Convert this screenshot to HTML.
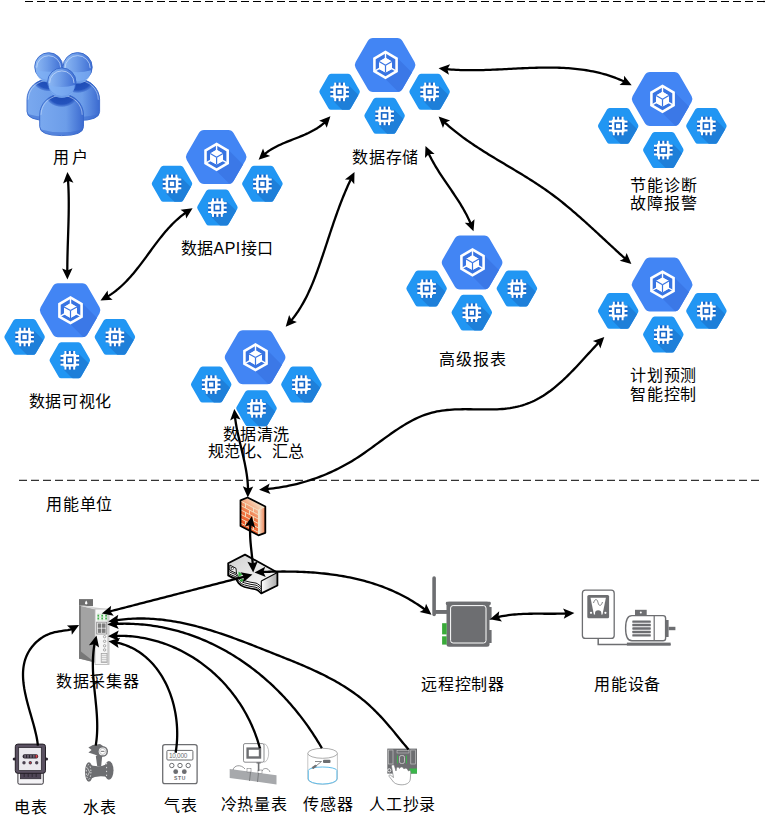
<!DOCTYPE html><html lang="zh-CN"><head><meta charset="utf-8"><style>html,body{margin:0;padding:0;background:#fff;overflow:hidden}svg{display:block}text{font-family:"Liberation Sans",sans-serif;font-size:16px;fill:#000;letter-spacing:0.7px}</style></head><body><svg width="769" height="826" viewBox="0 0 769 826"><defs><linearGradient id="ug1" x1="0" y1="0" x2="1" y2="0"><stop offset="0" stop-color="#8ab8f5"/><stop offset="1" stop-color="#3a6fd4"/></linearGradient><linearGradient id="ug2" x1="0" y1="0" x2="1" y2="0"><stop offset="0" stop-color="#7fb0f2"/><stop offset="1" stop-color="#3d72d6"/></linearGradient></defs><line x1="25" y1="1.5" x2="765" y2="1.5" stroke="#000" stroke-width="1.2" stroke-dasharray="8 4"/><line x1="19" y1="480.3" x2="759" y2="480.3" stroke="#333" stroke-width="1.2" stroke-dasharray="8 4"/><clipPath id="c1"><path d="M245.67 153.9Q247.4 156.9 245.67 159.9L233.53 180.92Q231.8 183.92 228.34 183.92L204.06 183.92Q200.6 183.92 198.87 180.92L186.73 159.9Q185 156.9 186.73 153.9L198.87 132.88Q200.6 129.88 204.06 129.88L228.34 129.88Q231.8 129.88 233.53 132.88Z"/></clipPath><path d="M245.67 153.9Q247.4 156.9 245.67 159.9L233.53 180.92Q231.8 183.92 228.34 183.92L204.06 183.92Q200.6 183.92 198.87 180.92L186.73 159.9Q185 156.9 186.73 153.9L198.87 132.88Q200.6 129.88 204.06 129.88L228.34 129.88Q231.8 129.88 233.53 132.88Z" fill="#4285f4"/><polygon clip-path="url(#c1)" points="228.5,149.9 288.5,209.9 276.5,230.9 216.5,170.9" fill="#3b78e7"/><polygon points="228.5,149.9 216.2,156.9 216.5,170.9" fill="#3b78e7" clip-path="url(#c1)"/><polygon points="216.6,142.6 228.98,149.75 228.98,164.05 216.6,171.2 204.22,164.05 204.22,149.75" fill="#fff"/><polygon points="216.6,145.6 226.39,151.25 226.39,162.55 216.6,168.2 206.81,162.55 206.81,151.25" fill="#3874e2"/><polygon points="216.6,149.8 223.01,153.5 223.01,160.9 216.6,164.6 210.19,160.9 210.19,153.5" fill="#fff"/><line x1="216.6" y1="156.9" x2="216.6" y2="144.9" stroke="#fff" stroke-width="1.4"/><line x1="216.6" y1="156.9" x2="206.21" y2="162.9" stroke="#fff" stroke-width="1.4"/><line x1="216.6" y1="156.9" x2="226.99" y2="162.9" stroke="#fff" stroke-width="1.4"/><polygon points="216.6,149.8 223.01,153.5 223.01,160.9 216.6,164.6 210.19,160.9 210.19,153.5" fill="#fff"/><line x1="216.6" y1="157.2" x2="210.19" y2="153.5" stroke="#3874e2" stroke-width="1.2"/><line x1="216.6" y1="157.2" x2="223.01" y2="153.5" stroke="#3874e2" stroke-width="1.2"/><line x1="216.6" y1="157.2" x2="216.6" y2="164.6" stroke="#3874e2" stroke-width="1.2"/><clipPath id="c2"><path d="M191.83 182.3Q192.7 183.8 191.83 185.3L183.22 200.23Q182.35 201.73 180.62 201.73L163.38 201.73Q161.65 201.73 160.78 200.23L152.17 185.3Q151.3 183.8 152.17 182.3L160.78 167.37Q161.65 165.87 163.38 165.87L180.62 165.87Q182.35 165.87 183.22 167.37Z"/></clipPath><path d="M191.83 182.3Q192.7 183.8 191.83 185.3L183.22 200.23Q182.35 201.73 180.62 201.73L163.38 201.73Q161.65 201.73 160.78 200.23L152.17 185.3Q151.3 183.8 152.17 182.3L160.78 167.37Q161.65 165.87 163.38 165.87L180.62 165.87Q182.35 165.87 183.22 167.37Z" fill="#2196f3"/><polygon clip-path="url(#c2)" points="181.3,177.5 221.3,217.5 205.7,233.1 165.7,193.1 172,183.8" fill="#1e7fd9"/><rect x="166.5" y="174.6" width="11" height="3" fill="#1565c8"/><rect x="166.5" y="190.2" width="11" height="3" fill="#1565c8"/><rect x="162.7" y="178.4" width="3" height="11" fill="#1565c8"/><rect x="178.3" y="178.4" width="3" height="11" fill="#1565c8"/><rect x="165.7" y="177.6" width="12.6" height="12.6" fill="#fff"/><rect x="166.6" y="174.6" width="2" height="18.6" fill="#fff"/><rect x="162.7" y="178.5" width="18.6" height="2" fill="#fff"/><rect x="171" y="174.6" width="2" height="18.6" fill="#fff"/><rect x="162.7" y="182.9" width="18.6" height="2" fill="#fff"/><rect x="175.4" y="174.6" width="2" height="18.6" fill="#fff"/><rect x="162.7" y="187.3" width="18.6" height="2" fill="#fff"/><rect x="169" y="180.9" width="6" height="6" fill="none" stroke="#1565c8" stroke-width="1.6"/><clipPath id="c3"><path d="M282.23 182.3Q283.1 183.8 282.23 185.3L273.62 200.23Q272.75 201.73 271.02 201.73L253.78 201.73Q252.05 201.73 251.18 200.23L242.57 185.3Q241.7 183.8 242.57 182.3L251.18 167.37Q252.05 165.87 253.78 165.87L271.02 165.87Q272.75 165.87 273.62 167.37Z"/></clipPath><path d="M282.23 182.3Q283.1 183.8 282.23 185.3L273.62 200.23Q272.75 201.73 271.02 201.73L253.78 201.73Q252.05 201.73 251.18 200.23L242.57 185.3Q241.7 183.8 242.57 182.3L251.18 167.37Q252.05 165.87 253.78 165.87L271.02 165.87Q272.75 165.87 273.62 167.37Z" fill="#2196f3"/><polygon clip-path="url(#c3)" points="271.7,177.5 311.7,217.5 296.1,233.1 256.1,193.1 262.4,183.8" fill="#1e7fd9"/><rect x="256.9" y="174.6" width="11" height="3" fill="#1565c8"/><rect x="256.9" y="190.2" width="11" height="3" fill="#1565c8"/><rect x="253.1" y="178.4" width="3" height="11" fill="#1565c8"/><rect x="268.7" y="178.4" width="3" height="11" fill="#1565c8"/><rect x="256.1" y="177.6" width="12.6" height="12.6" fill="#fff"/><rect x="257" y="174.6" width="2" height="18.6" fill="#fff"/><rect x="253.1" y="178.5" width="18.6" height="2" fill="#fff"/><rect x="261.4" y="174.6" width="2" height="18.6" fill="#fff"/><rect x="253.1" y="182.9" width="18.6" height="2" fill="#fff"/><rect x="265.8" y="174.6" width="2" height="18.6" fill="#fff"/><rect x="253.1" y="187.3" width="18.6" height="2" fill="#fff"/><rect x="259.4" y="180.9" width="6" height="6" fill="none" stroke="#1565c8" stroke-width="1.6"/><clipPath id="c4"><path d="M237.23 206Q238.1 207.5 237.23 209L228.62 223.93Q227.75 225.43 226.02 225.43L208.78 225.43Q207.05 225.43 206.18 223.93L197.57 209Q196.7 207.5 197.57 206L206.18 191.07Q207.05 189.57 208.78 189.57L226.02 189.57Q227.75 189.57 228.62 191.07Z"/></clipPath><path d="M237.23 206Q238.1 207.5 237.23 209L228.62 223.93Q227.75 225.43 226.02 225.43L208.78 225.43Q207.05 225.43 206.18 223.93L197.57 209Q196.7 207.5 197.57 206L206.18 191.07Q207.05 189.57 208.78 189.57L226.02 189.57Q227.75 189.57 228.62 191.07Z" fill="#2196f3"/><polygon clip-path="url(#c4)" points="226.7,201.2 266.7,241.2 251.1,256.8 211.1,216.8 217.4,207.5" fill="#1e7fd9"/><rect x="211.9" y="198.3" width="11" height="3" fill="#1565c8"/><rect x="211.9" y="213.9" width="11" height="3" fill="#1565c8"/><rect x="208.1" y="202.1" width="3" height="11" fill="#1565c8"/><rect x="223.7" y="202.1" width="3" height="11" fill="#1565c8"/><rect x="211.1" y="201.3" width="12.6" height="12.6" fill="#fff"/><rect x="212" y="198.3" width="2" height="18.6" fill="#fff"/><rect x="208.1" y="202.2" width="18.6" height="2" fill="#fff"/><rect x="216.4" y="198.3" width="2" height="18.6" fill="#fff"/><rect x="208.1" y="206.6" width="18.6" height="2" fill="#fff"/><rect x="220.8" y="198.3" width="2" height="18.6" fill="#fff"/><rect x="208.1" y="211" width="18.6" height="2" fill="#fff"/><rect x="214.4" y="204.6" width="6" height="6" fill="none" stroke="#1565c8" stroke-width="1.6"/><clipPath id="c5"><path d="M414.57 61.9Q416.3 64.9 414.57 67.9L402.43 88.92Q400.7 91.92 397.24 91.92L372.96 91.92Q369.5 91.92 367.77 88.92L355.63 67.9Q353.9 64.9 355.63 61.9L367.77 40.88Q369.5 37.88 372.96 37.88L397.24 37.88Q400.7 37.88 402.43 40.88Z"/></clipPath><path d="M414.57 61.9Q416.3 64.9 414.57 67.9L402.43 88.92Q400.7 91.92 397.24 91.92L372.96 91.92Q369.5 91.92 367.77 88.92L355.63 67.9Q353.9 64.9 355.63 61.9L367.77 40.88Q369.5 37.88 372.96 37.88L397.24 37.88Q400.7 37.88 402.43 40.88Z" fill="#4285f4"/><polygon clip-path="url(#c5)" points="397.4,57.9 457.4,117.9 445.4,138.9 385.4,78.9" fill="#3b78e7"/><polygon points="397.4,57.9 385.1,64.9 385.4,78.9" fill="#3b78e7" clip-path="url(#c5)"/><polygon points="385.5,50.6 397.88,57.75 397.88,72.05 385.5,79.2 373.12,72.05 373.12,57.75" fill="#fff"/><polygon points="385.5,53.6 395.29,59.25 395.29,70.55 385.5,76.2 375.71,70.55 375.71,59.25" fill="#3874e2"/><polygon points="385.5,57.8 391.91,61.5 391.91,68.9 385.5,72.6 379.09,68.9 379.09,61.5" fill="#fff"/><line x1="385.5" y1="64.9" x2="385.5" y2="52.9" stroke="#fff" stroke-width="1.4"/><line x1="385.5" y1="64.9" x2="375.11" y2="70.9" stroke="#fff" stroke-width="1.4"/><line x1="385.5" y1="64.9" x2="395.89" y2="70.9" stroke="#fff" stroke-width="1.4"/><polygon points="385.5,57.8 391.91,61.5 391.91,68.9 385.5,72.6 379.09,68.9 379.09,61.5" fill="#fff"/><line x1="385.5" y1="65.2" x2="379.09" y2="61.5" stroke="#3874e2" stroke-width="1.2"/><line x1="385.5" y1="65.2" x2="391.91" y2="61.5" stroke="#3874e2" stroke-width="1.2"/><line x1="385.5" y1="65.2" x2="385.5" y2="72.6" stroke="#3874e2" stroke-width="1.2"/><clipPath id="c6"><path d="M359.43 90.3Q360.3 91.8 359.43 93.3L350.82 108.23Q349.95 109.73 348.22 109.73L330.98 109.73Q329.25 109.73 328.38 108.23L319.77 93.3Q318.9 91.8 319.77 90.3L328.38 75.37Q329.25 73.87 330.98 73.87L348.22 73.87Q349.95 73.87 350.82 75.37Z"/></clipPath><path d="M359.43 90.3Q360.3 91.8 359.43 93.3L350.82 108.23Q349.95 109.73 348.22 109.73L330.98 109.73Q329.25 109.73 328.38 108.23L319.77 93.3Q318.9 91.8 319.77 90.3L328.38 75.37Q329.25 73.87 330.98 73.87L348.22 73.87Q349.95 73.87 350.82 75.37Z" fill="#2196f3"/><polygon clip-path="url(#c6)" points="348.9,85.5 388.9,125.5 373.3,141.1 333.3,101.1 339.6,91.8" fill="#1e7fd9"/><rect x="334.1" y="82.6" width="11" height="3" fill="#1565c8"/><rect x="334.1" y="98.2" width="11" height="3" fill="#1565c8"/><rect x="330.3" y="86.4" width="3" height="11" fill="#1565c8"/><rect x="345.9" y="86.4" width="3" height="11" fill="#1565c8"/><rect x="333.3" y="85.6" width="12.6" height="12.6" fill="#fff"/><rect x="334.2" y="82.6" width="2" height="18.6" fill="#fff"/><rect x="330.3" y="86.5" width="18.6" height="2" fill="#fff"/><rect x="338.6" y="82.6" width="2" height="18.6" fill="#fff"/><rect x="330.3" y="90.9" width="18.6" height="2" fill="#fff"/><rect x="343" y="82.6" width="2" height="18.6" fill="#fff"/><rect x="330.3" y="95.3" width="18.6" height="2" fill="#fff"/><rect x="336.6" y="88.9" width="6" height="6" fill="none" stroke="#1565c8" stroke-width="1.6"/><clipPath id="c7"><path d="M449.43 90.3Q450.3 91.8 449.43 93.3L440.82 108.23Q439.95 109.73 438.22 109.73L420.98 109.73Q419.25 109.73 418.38 108.23L409.77 93.3Q408.9 91.8 409.77 90.3L418.38 75.37Q419.25 73.87 420.98 73.87L438.22 73.87Q439.95 73.87 440.82 75.37Z"/></clipPath><path d="M449.43 90.3Q450.3 91.8 449.43 93.3L440.82 108.23Q439.95 109.73 438.22 109.73L420.98 109.73Q419.25 109.73 418.38 108.23L409.77 93.3Q408.9 91.8 409.77 90.3L418.38 75.37Q419.25 73.87 420.98 73.87L438.22 73.87Q439.95 73.87 440.82 75.37Z" fill="#2196f3"/><polygon clip-path="url(#c7)" points="438.9,85.5 478.9,125.5 463.3,141.1 423.3,101.1 429.6,91.8" fill="#1e7fd9"/><rect x="424.1" y="82.6" width="11" height="3" fill="#1565c8"/><rect x="424.1" y="98.2" width="11" height="3" fill="#1565c8"/><rect x="420.3" y="86.4" width="3" height="11" fill="#1565c8"/><rect x="435.9" y="86.4" width="3" height="11" fill="#1565c8"/><rect x="423.3" y="85.6" width="12.6" height="12.6" fill="#fff"/><rect x="424.2" y="82.6" width="2" height="18.6" fill="#fff"/><rect x="420.3" y="86.5" width="18.6" height="2" fill="#fff"/><rect x="428.6" y="82.6" width="2" height="18.6" fill="#fff"/><rect x="420.3" y="90.9" width="18.6" height="2" fill="#fff"/><rect x="433" y="82.6" width="2" height="18.6" fill="#fff"/><rect x="420.3" y="95.3" width="18.6" height="2" fill="#fff"/><rect x="426.6" y="88.9" width="6" height="6" fill="none" stroke="#1565c8" stroke-width="1.6"/><clipPath id="c8"><path d="M404.43 114.3Q405.3 115.8 404.43 117.3L395.82 132.23Q394.95 133.73 393.22 133.73L375.98 133.73Q374.25 133.73 373.38 132.23L364.77 117.3Q363.9 115.8 364.77 114.3L373.38 99.37Q374.25 97.87 375.98 97.87L393.22 97.87Q394.95 97.87 395.82 99.37Z"/></clipPath><path d="M404.43 114.3Q405.3 115.8 404.43 117.3L395.82 132.23Q394.95 133.73 393.22 133.73L375.98 133.73Q374.25 133.73 373.38 132.23L364.77 117.3Q363.9 115.8 364.77 114.3L373.38 99.37Q374.25 97.87 375.98 97.87L393.22 97.87Q394.95 97.87 395.82 99.37Z" fill="#2196f3"/><polygon clip-path="url(#c8)" points="393.9,109.5 433.9,149.5 418.3,165.1 378.3,125.1 384.6,115.8" fill="#1e7fd9"/><rect x="379.1" y="106.6" width="11" height="3" fill="#1565c8"/><rect x="379.1" y="122.2" width="11" height="3" fill="#1565c8"/><rect x="375.3" y="110.4" width="3" height="11" fill="#1565c8"/><rect x="390.9" y="110.4" width="3" height="11" fill="#1565c8"/><rect x="378.3" y="109.6" width="12.6" height="12.6" fill="#fff"/><rect x="379.2" y="106.6" width="2" height="18.6" fill="#fff"/><rect x="375.3" y="110.5" width="18.6" height="2" fill="#fff"/><rect x="383.6" y="106.6" width="2" height="18.6" fill="#fff"/><rect x="375.3" y="114.9" width="18.6" height="2" fill="#fff"/><rect x="388" y="106.6" width="2" height="18.6" fill="#fff"/><rect x="375.3" y="119.3" width="18.6" height="2" fill="#fff"/><rect x="381.6" y="112.9" width="6" height="6" fill="none" stroke="#1565c8" stroke-width="1.6"/><clipPath id="c9"><path d="M691.57 95.9Q693.3 98.9 691.57 101.9L679.43 122.92Q677.7 125.92 674.24 125.92L649.96 125.92Q646.5 125.92 644.77 122.92L632.63 101.9Q630.9 98.9 632.63 95.9L644.77 74.88Q646.5 71.88 649.96 71.88L674.24 71.88Q677.7 71.88 679.43 74.88Z"/></clipPath><path d="M691.57 95.9Q693.3 98.9 691.57 101.9L679.43 122.92Q677.7 125.92 674.24 125.92L649.96 125.92Q646.5 125.92 644.77 122.92L632.63 101.9Q630.9 98.9 632.63 95.9L644.77 74.88Q646.5 71.88 649.96 71.88L674.24 71.88Q677.7 71.88 679.43 74.88Z" fill="#4285f4"/><polygon clip-path="url(#c9)" points="674.4,91.9 734.4,151.9 722.4,172.9 662.4,112.9" fill="#3b78e7"/><polygon points="674.4,91.9 662.1,98.9 662.4,112.9" fill="#3b78e7" clip-path="url(#c9)"/><polygon points="662.5,84.6 674.88,91.75 674.88,106.05 662.5,113.2 650.12,106.05 650.12,91.75" fill="#fff"/><polygon points="662.5,87.6 672.29,93.25 672.29,104.55 662.5,110.2 652.71,104.55 652.71,93.25" fill="#3874e2"/><polygon points="662.5,91.8 668.91,95.5 668.91,102.9 662.5,106.6 656.09,102.9 656.09,95.5" fill="#fff"/><line x1="662.5" y1="98.9" x2="662.5" y2="86.9" stroke="#fff" stroke-width="1.4"/><line x1="662.5" y1="98.9" x2="652.11" y2="104.9" stroke="#fff" stroke-width="1.4"/><line x1="662.5" y1="98.9" x2="672.89" y2="104.9" stroke="#fff" stroke-width="1.4"/><polygon points="662.5,91.8 668.91,95.5 668.91,102.9 662.5,106.6 656.09,102.9 656.09,95.5" fill="#fff"/><line x1="662.5" y1="99.2" x2="656.09" y2="95.5" stroke="#3874e2" stroke-width="1.2"/><line x1="662.5" y1="99.2" x2="668.91" y2="95.5" stroke="#3874e2" stroke-width="1.2"/><line x1="662.5" y1="99.2" x2="662.5" y2="106.6" stroke="#3874e2" stroke-width="1.2"/><clipPath id="c10"><path d="M638.03 124.4Q638.9 125.9 638.03 127.4L629.42 142.33Q628.55 143.83 626.82 143.83L609.58 143.83Q607.85 143.83 606.98 142.33L598.37 127.4Q597.5 125.9 598.37 124.4L606.98 109.47Q607.85 107.97 609.58 107.97L626.82 107.97Q628.55 107.97 629.42 109.47Z"/></clipPath><path d="M638.03 124.4Q638.9 125.9 638.03 127.4L629.42 142.33Q628.55 143.83 626.82 143.83L609.58 143.83Q607.85 143.83 606.98 142.33L598.37 127.4Q597.5 125.9 598.37 124.4L606.98 109.47Q607.85 107.97 609.58 107.97L626.82 107.97Q628.55 107.97 629.42 109.47Z" fill="#2196f3"/><polygon clip-path="url(#c10)" points="627.5,119.6 667.5,159.6 651.9,175.2 611.9,135.2 618.2,125.9" fill="#1e7fd9"/><rect x="612.7" y="116.7" width="11" height="3" fill="#1565c8"/><rect x="612.7" y="132.3" width="11" height="3" fill="#1565c8"/><rect x="608.9" y="120.5" width="3" height="11" fill="#1565c8"/><rect x="624.5" y="120.5" width="3" height="11" fill="#1565c8"/><rect x="611.9" y="119.7" width="12.6" height="12.6" fill="#fff"/><rect x="612.8" y="116.7" width="2" height="18.6" fill="#fff"/><rect x="608.9" y="120.6" width="18.6" height="2" fill="#fff"/><rect x="617.2" y="116.7" width="2" height="18.6" fill="#fff"/><rect x="608.9" y="125" width="18.6" height="2" fill="#fff"/><rect x="621.6" y="116.7" width="2" height="18.6" fill="#fff"/><rect x="608.9" y="129.4" width="18.6" height="2" fill="#fff"/><rect x="615.2" y="123" width="6" height="6" fill="none" stroke="#1565c8" stroke-width="1.6"/><clipPath id="c11"><path d="M726.23 124.4Q727.1 125.9 726.23 127.4L717.62 142.33Q716.75 143.83 715.02 143.83L697.78 143.83Q696.05 143.83 695.18 142.33L686.57 127.4Q685.7 125.9 686.57 124.4L695.18 109.47Q696.05 107.97 697.78 107.97L715.02 107.97Q716.75 107.97 717.62 109.47Z"/></clipPath><path d="M726.23 124.4Q727.1 125.9 726.23 127.4L717.62 142.33Q716.75 143.83 715.02 143.83L697.78 143.83Q696.05 143.83 695.18 142.33L686.57 127.4Q685.7 125.9 686.57 124.4L695.18 109.47Q696.05 107.97 697.78 107.97L715.02 107.97Q716.75 107.97 717.62 109.47Z" fill="#2196f3"/><polygon clip-path="url(#c11)" points="715.7,119.6 755.7,159.6 740.1,175.2 700.1,135.2 706.4,125.9" fill="#1e7fd9"/><rect x="700.9" y="116.7" width="11" height="3" fill="#1565c8"/><rect x="700.9" y="132.3" width="11" height="3" fill="#1565c8"/><rect x="697.1" y="120.5" width="3" height="11" fill="#1565c8"/><rect x="712.7" y="120.5" width="3" height="11" fill="#1565c8"/><rect x="700.1" y="119.7" width="12.6" height="12.6" fill="#fff"/><rect x="701" y="116.7" width="2" height="18.6" fill="#fff"/><rect x="697.1" y="120.6" width="18.6" height="2" fill="#fff"/><rect x="705.4" y="116.7" width="2" height="18.6" fill="#fff"/><rect x="697.1" y="125" width="18.6" height="2" fill="#fff"/><rect x="709.8" y="116.7" width="2" height="18.6" fill="#fff"/><rect x="697.1" y="129.4" width="18.6" height="2" fill="#fff"/><rect x="703.4" y="123" width="6" height="6" fill="none" stroke="#1565c8" stroke-width="1.6"/><clipPath id="c12"><path d="M683.13 148.5Q684 150 683.13 151.5L674.52 166.43Q673.65 167.93 671.92 167.93L654.68 167.93Q652.95 167.93 652.08 166.43L643.47 151.5Q642.6 150 643.47 148.5L652.08 133.57Q652.95 132.07 654.68 132.07L671.92 132.07Q673.65 132.07 674.52 133.57Z"/></clipPath><path d="M683.13 148.5Q684 150 683.13 151.5L674.52 166.43Q673.65 167.93 671.92 167.93L654.68 167.93Q652.95 167.93 652.08 166.43L643.47 151.5Q642.6 150 643.47 148.5L652.08 133.57Q652.95 132.07 654.68 132.07L671.92 132.07Q673.65 132.07 674.52 133.57Z" fill="#2196f3"/><polygon clip-path="url(#c12)" points="672.6,143.7 712.6,183.7 697,199.3 657,159.3 663.3,150" fill="#1e7fd9"/><rect x="657.8" y="140.8" width="11" height="3" fill="#1565c8"/><rect x="657.8" y="156.4" width="11" height="3" fill="#1565c8"/><rect x="654" y="144.6" width="3" height="11" fill="#1565c8"/><rect x="669.6" y="144.6" width="3" height="11" fill="#1565c8"/><rect x="657" y="143.8" width="12.6" height="12.6" fill="#fff"/><rect x="657.9" y="140.8" width="2" height="18.6" fill="#fff"/><rect x="654" y="144.7" width="18.6" height="2" fill="#fff"/><rect x="662.3" y="140.8" width="2" height="18.6" fill="#fff"/><rect x="654" y="149.1" width="18.6" height="2" fill="#fff"/><rect x="666.7" y="140.8" width="2" height="18.6" fill="#fff"/><rect x="654" y="153.5" width="18.6" height="2" fill="#fff"/><rect x="660.3" y="147.1" width="6" height="6" fill="none" stroke="#1565c8" stroke-width="1.6"/><clipPath id="c13"><path d="M501.57 259.4Q503.3 262.4 501.57 265.4L489.43 286.42Q487.7 289.42 484.24 289.42L459.96 289.42Q456.5 289.42 454.77 286.42L442.63 265.4Q440.9 262.4 442.63 259.4L454.77 238.38Q456.5 235.38 459.96 235.38L484.24 235.38Q487.7 235.38 489.43 238.38Z"/></clipPath><path d="M501.57 259.4Q503.3 262.4 501.57 265.4L489.43 286.42Q487.7 289.42 484.24 289.42L459.96 289.42Q456.5 289.42 454.77 286.42L442.63 265.4Q440.9 262.4 442.63 259.4L454.77 238.38Q456.5 235.38 459.96 235.38L484.24 235.38Q487.7 235.38 489.43 238.38Z" fill="#4285f4"/><polygon clip-path="url(#c13)" points="484.4,255.4 544.4,315.4 532.4,336.4 472.4,276.4" fill="#3b78e7"/><polygon points="484.4,255.4 472.1,262.4 472.4,276.4" fill="#3b78e7" clip-path="url(#c13)"/><polygon points="472.5,248.1 484.88,255.25 484.88,269.55 472.5,276.7 460.12,269.55 460.12,255.25" fill="#fff"/><polygon points="472.5,251.1 482.29,256.75 482.29,268.05 472.5,273.7 462.71,268.05 462.71,256.75" fill="#3874e2"/><polygon points="472.5,255.3 478.91,259 478.91,266.4 472.5,270.1 466.09,266.4 466.09,259" fill="#fff"/><line x1="472.5" y1="262.4" x2="472.5" y2="250.4" stroke="#fff" stroke-width="1.4"/><line x1="472.5" y1="262.4" x2="462.11" y2="268.4" stroke="#fff" stroke-width="1.4"/><line x1="472.5" y1="262.4" x2="482.89" y2="268.4" stroke="#fff" stroke-width="1.4"/><polygon points="472.5,255.3 478.91,259 478.91,266.4 472.5,270.1 466.09,266.4 466.09,259" fill="#fff"/><line x1="472.5" y1="262.7" x2="466.09" y2="259" stroke="#3874e2" stroke-width="1.2"/><line x1="472.5" y1="262.7" x2="478.91" y2="259" stroke="#3874e2" stroke-width="1.2"/><line x1="472.5" y1="262.7" x2="472.5" y2="270.1" stroke="#3874e2" stroke-width="1.2"/><clipPath id="c14"><path d="M446.43 287Q447.3 288.5 446.43 290L437.82 304.93Q436.95 306.43 435.22 306.43L417.98 306.43Q416.25 306.43 415.38 304.93L406.77 290Q405.9 288.5 406.77 287L415.38 272.07Q416.25 270.57 417.98 270.57L435.22 270.57Q436.95 270.57 437.82 272.07Z"/></clipPath><path d="M446.43 287Q447.3 288.5 446.43 290L437.82 304.93Q436.95 306.43 435.22 306.43L417.98 306.43Q416.25 306.43 415.38 304.93L406.77 290Q405.9 288.5 406.77 287L415.38 272.07Q416.25 270.57 417.98 270.57L435.22 270.57Q436.95 270.57 437.82 272.07Z" fill="#2196f3"/><polygon clip-path="url(#c14)" points="435.9,282.2 475.9,322.2 460.3,337.8 420.3,297.8 426.6,288.5" fill="#1e7fd9"/><rect x="421.1" y="279.3" width="11" height="3" fill="#1565c8"/><rect x="421.1" y="294.9" width="11" height="3" fill="#1565c8"/><rect x="417.3" y="283.1" width="3" height="11" fill="#1565c8"/><rect x="432.9" y="283.1" width="3" height="11" fill="#1565c8"/><rect x="420.3" y="282.3" width="12.6" height="12.6" fill="#fff"/><rect x="421.2" y="279.3" width="2" height="18.6" fill="#fff"/><rect x="417.3" y="283.2" width="18.6" height="2" fill="#fff"/><rect x="425.6" y="279.3" width="2" height="18.6" fill="#fff"/><rect x="417.3" y="287.6" width="18.6" height="2" fill="#fff"/><rect x="430" y="279.3" width="2" height="18.6" fill="#fff"/><rect x="417.3" y="292" width="18.6" height="2" fill="#fff"/><rect x="423.6" y="285.6" width="6" height="6" fill="none" stroke="#1565c8" stroke-width="1.6"/><clipPath id="c15"><path d="M536.73 287Q537.6 288.5 536.73 290L528.12 304.93Q527.25 306.43 525.52 306.43L508.28 306.43Q506.55 306.43 505.68 304.93L497.07 290Q496.2 288.5 497.07 287L505.68 272.07Q506.55 270.57 508.28 270.57L525.52 270.57Q527.25 270.57 528.12 272.07Z"/></clipPath><path d="M536.73 287Q537.6 288.5 536.73 290L528.12 304.93Q527.25 306.43 525.52 306.43L508.28 306.43Q506.55 306.43 505.68 304.93L497.07 290Q496.2 288.5 497.07 287L505.68 272.07Q506.55 270.57 508.28 270.57L525.52 270.57Q527.25 270.57 528.12 272.07Z" fill="#2196f3"/><polygon clip-path="url(#c15)" points="526.2,282.2 566.2,322.2 550.6,337.8 510.6,297.8 516.9,288.5" fill="#1e7fd9"/><rect x="511.4" y="279.3" width="11" height="3" fill="#1565c8"/><rect x="511.4" y="294.9" width="11" height="3" fill="#1565c8"/><rect x="507.6" y="283.1" width="3" height="11" fill="#1565c8"/><rect x="523.2" y="283.1" width="3" height="11" fill="#1565c8"/><rect x="510.6" y="282.3" width="12.6" height="12.6" fill="#fff"/><rect x="511.5" y="279.3" width="2" height="18.6" fill="#fff"/><rect x="507.6" y="283.2" width="18.6" height="2" fill="#fff"/><rect x="515.9" y="279.3" width="2" height="18.6" fill="#fff"/><rect x="507.6" y="287.6" width="18.6" height="2" fill="#fff"/><rect x="520.3" y="279.3" width="2" height="18.6" fill="#fff"/><rect x="507.6" y="292" width="18.6" height="2" fill="#fff"/><rect x="513.9" y="285.6" width="6" height="6" fill="none" stroke="#1565c8" stroke-width="1.6"/><clipPath id="c16"><path d="M491.63 311.1Q492.5 312.6 491.63 314.1L483.02 329.03Q482.15 330.53 480.42 330.53L463.18 330.53Q461.45 330.53 460.58 329.03L451.97 314.1Q451.1 312.6 451.97 311.1L460.58 296.17Q461.45 294.67 463.18 294.67L480.42 294.67Q482.15 294.67 483.02 296.17Z"/></clipPath><path d="M491.63 311.1Q492.5 312.6 491.63 314.1L483.02 329.03Q482.15 330.53 480.42 330.53L463.18 330.53Q461.45 330.53 460.58 329.03L451.97 314.1Q451.1 312.6 451.97 311.1L460.58 296.17Q461.45 294.67 463.18 294.67L480.42 294.67Q482.15 294.67 483.02 296.17Z" fill="#2196f3"/><polygon clip-path="url(#c16)" points="481.1,306.3 521.1,346.3 505.5,361.9 465.5,321.9 471.8,312.6" fill="#1e7fd9"/><rect x="466.3" y="303.4" width="11" height="3" fill="#1565c8"/><rect x="466.3" y="319" width="11" height="3" fill="#1565c8"/><rect x="462.5" y="307.2" width="3" height="11" fill="#1565c8"/><rect x="478.1" y="307.2" width="3" height="11" fill="#1565c8"/><rect x="465.5" y="306.4" width="12.6" height="12.6" fill="#fff"/><rect x="466.4" y="303.4" width="2" height="18.6" fill="#fff"/><rect x="462.5" y="307.3" width="18.6" height="2" fill="#fff"/><rect x="470.8" y="303.4" width="2" height="18.6" fill="#fff"/><rect x="462.5" y="311.7" width="18.6" height="2" fill="#fff"/><rect x="475.2" y="303.4" width="2" height="18.6" fill="#fff"/><rect x="462.5" y="316.1" width="18.6" height="2" fill="#fff"/><rect x="468.8" y="309.7" width="6" height="6" fill="none" stroke="#1565c8" stroke-width="1.6"/><clipPath id="c17"><path d="M691.57 281.5Q693.3 284.5 691.57 287.5L679.43 308.52Q677.7 311.52 674.24 311.52L649.96 311.52Q646.5 311.52 644.77 308.52L632.63 287.5Q630.9 284.5 632.63 281.5L644.77 260.48Q646.5 257.48 649.96 257.48L674.24 257.48Q677.7 257.48 679.43 260.48Z"/></clipPath><path d="M691.57 281.5Q693.3 284.5 691.57 287.5L679.43 308.52Q677.7 311.52 674.24 311.52L649.96 311.52Q646.5 311.52 644.77 308.52L632.63 287.5Q630.9 284.5 632.63 281.5L644.77 260.48Q646.5 257.48 649.96 257.48L674.24 257.48Q677.7 257.48 679.43 260.48Z" fill="#4285f4"/><polygon clip-path="url(#c17)" points="674.4,277.5 734.4,337.5 722.4,358.5 662.4,298.5" fill="#3b78e7"/><polygon points="674.4,277.5 662.1,284.5 662.4,298.5" fill="#3b78e7" clip-path="url(#c17)"/><polygon points="662.5,270.2 674.88,277.35 674.88,291.65 662.5,298.8 650.12,291.65 650.12,277.35" fill="#fff"/><polygon points="662.5,273.2 672.29,278.85 672.29,290.15 662.5,295.8 652.71,290.15 652.71,278.85" fill="#3874e2"/><polygon points="662.5,277.4 668.91,281.1 668.91,288.5 662.5,292.2 656.09,288.5 656.09,281.1" fill="#fff"/><line x1="662.5" y1="284.5" x2="662.5" y2="272.5" stroke="#fff" stroke-width="1.4"/><line x1="662.5" y1="284.5" x2="652.11" y2="290.5" stroke="#fff" stroke-width="1.4"/><line x1="662.5" y1="284.5" x2="672.89" y2="290.5" stroke="#fff" stroke-width="1.4"/><polygon points="662.5,277.4 668.91,281.1 668.91,288.5 662.5,292.2 656.09,288.5 656.09,281.1" fill="#fff"/><line x1="662.5" y1="284.8" x2="656.09" y2="281.1" stroke="#3874e2" stroke-width="1.2"/><line x1="662.5" y1="284.8" x2="668.91" y2="281.1" stroke="#3874e2" stroke-width="1.2"/><line x1="662.5" y1="284.8" x2="662.5" y2="292.2" stroke="#3874e2" stroke-width="1.2"/><clipPath id="c18"><path d="M638.03 309.4Q638.9 310.9 638.03 312.4L629.42 327.33Q628.55 328.83 626.82 328.83L609.58 328.83Q607.85 328.83 606.98 327.33L598.37 312.4Q597.5 310.9 598.37 309.4L606.98 294.47Q607.85 292.97 609.58 292.97L626.82 292.97Q628.55 292.97 629.42 294.47Z"/></clipPath><path d="M638.03 309.4Q638.9 310.9 638.03 312.4L629.42 327.33Q628.55 328.83 626.82 328.83L609.58 328.83Q607.85 328.83 606.98 327.33L598.37 312.4Q597.5 310.9 598.37 309.4L606.98 294.47Q607.85 292.97 609.58 292.97L626.82 292.97Q628.55 292.97 629.42 294.47Z" fill="#2196f3"/><polygon clip-path="url(#c18)" points="627.5,304.6 667.5,344.6 651.9,360.2 611.9,320.2 618.2,310.9" fill="#1e7fd9"/><rect x="612.7" y="301.7" width="11" height="3" fill="#1565c8"/><rect x="612.7" y="317.3" width="11" height="3" fill="#1565c8"/><rect x="608.9" y="305.5" width="3" height="11" fill="#1565c8"/><rect x="624.5" y="305.5" width="3" height="11" fill="#1565c8"/><rect x="611.9" y="304.7" width="12.6" height="12.6" fill="#fff"/><rect x="612.8" y="301.7" width="2" height="18.6" fill="#fff"/><rect x="608.9" y="305.6" width="18.6" height="2" fill="#fff"/><rect x="617.2" y="301.7" width="2" height="18.6" fill="#fff"/><rect x="608.9" y="310" width="18.6" height="2" fill="#fff"/><rect x="621.6" y="301.7" width="2" height="18.6" fill="#fff"/><rect x="608.9" y="314.4" width="18.6" height="2" fill="#fff"/><rect x="615.2" y="308" width="6" height="6" fill="none" stroke="#1565c8" stroke-width="1.6"/><clipPath id="c19"><path d="M726.23 309.4Q727.1 310.9 726.23 312.4L717.62 327.33Q716.75 328.83 715.02 328.83L697.78 328.83Q696.05 328.83 695.18 327.33L686.57 312.4Q685.7 310.9 686.57 309.4L695.18 294.47Q696.05 292.97 697.78 292.97L715.02 292.97Q716.75 292.97 717.62 294.47Z"/></clipPath><path d="M726.23 309.4Q727.1 310.9 726.23 312.4L717.62 327.33Q716.75 328.83 715.02 328.83L697.78 328.83Q696.05 328.83 695.18 327.33L686.57 312.4Q685.7 310.9 686.57 309.4L695.18 294.47Q696.05 292.97 697.78 292.97L715.02 292.97Q716.75 292.97 717.62 294.47Z" fill="#2196f3"/><polygon clip-path="url(#c19)" points="715.7,304.6 755.7,344.6 740.1,360.2 700.1,320.2 706.4,310.9" fill="#1e7fd9"/><rect x="700.9" y="301.7" width="11" height="3" fill="#1565c8"/><rect x="700.9" y="317.3" width="11" height="3" fill="#1565c8"/><rect x="697.1" y="305.5" width="3" height="11" fill="#1565c8"/><rect x="712.7" y="305.5" width="3" height="11" fill="#1565c8"/><rect x="700.1" y="304.7" width="12.6" height="12.6" fill="#fff"/><rect x="701" y="301.7" width="2" height="18.6" fill="#fff"/><rect x="697.1" y="305.6" width="18.6" height="2" fill="#fff"/><rect x="705.4" y="301.7" width="2" height="18.6" fill="#fff"/><rect x="697.1" y="310" width="18.6" height="2" fill="#fff"/><rect x="709.8" y="301.7" width="2" height="18.6" fill="#fff"/><rect x="697.1" y="314.4" width="18.6" height="2" fill="#fff"/><rect x="703.4" y="308" width="6" height="6" fill="none" stroke="#1565c8" stroke-width="1.6"/><clipPath id="c20"><path d="M683.13 333Q684 334.5 683.13 336L674.52 350.93Q673.65 352.43 671.92 352.43L654.68 352.43Q652.95 352.43 652.08 350.93L643.47 336Q642.6 334.5 643.47 333L652.08 318.07Q652.95 316.57 654.68 316.57L671.92 316.57Q673.65 316.57 674.52 318.07Z"/></clipPath><path d="M683.13 333Q684 334.5 683.13 336L674.52 350.93Q673.65 352.43 671.92 352.43L654.68 352.43Q652.95 352.43 652.08 350.93L643.47 336Q642.6 334.5 643.47 333L652.08 318.07Q652.95 316.57 654.68 316.57L671.92 316.57Q673.65 316.57 674.52 318.07Z" fill="#2196f3"/><polygon clip-path="url(#c20)" points="672.6,328.2 712.6,368.2 697,383.8 657,343.8 663.3,334.5" fill="#1e7fd9"/><rect x="657.8" y="325.3" width="11" height="3" fill="#1565c8"/><rect x="657.8" y="340.9" width="11" height="3" fill="#1565c8"/><rect x="654" y="329.1" width="3" height="11" fill="#1565c8"/><rect x="669.6" y="329.1" width="3" height="11" fill="#1565c8"/><rect x="657" y="328.3" width="12.6" height="12.6" fill="#fff"/><rect x="657.9" y="325.3" width="2" height="18.6" fill="#fff"/><rect x="654" y="329.2" width="18.6" height="2" fill="#fff"/><rect x="662.3" y="325.3" width="2" height="18.6" fill="#fff"/><rect x="654" y="333.6" width="18.6" height="2" fill="#fff"/><rect x="666.7" y="325.3" width="2" height="18.6" fill="#fff"/><rect x="654" y="338" width="18.6" height="2" fill="#fff"/><rect x="660.3" y="331.6" width="6" height="6" fill="none" stroke="#1565c8" stroke-width="1.6"/><clipPath id="c21"><path d="M284.57 354.3Q286.3 357.3 284.57 360.3L272.43 381.32Q270.7 384.32 267.24 384.32L242.96 384.32Q239.5 384.32 237.77 381.32L225.63 360.3Q223.9 357.3 225.63 354.3L237.77 333.28Q239.5 330.28 242.96 330.28L267.24 330.28Q270.7 330.28 272.43 333.28Z"/></clipPath><path d="M284.57 354.3Q286.3 357.3 284.57 360.3L272.43 381.32Q270.7 384.32 267.24 384.32L242.96 384.32Q239.5 384.32 237.77 381.32L225.63 360.3Q223.9 357.3 225.63 354.3L237.77 333.28Q239.5 330.28 242.96 330.28L267.24 330.28Q270.7 330.28 272.43 333.28Z" fill="#4285f4"/><polygon clip-path="url(#c21)" points="267.4,350.3 327.4,410.3 315.4,431.3 255.4,371.3" fill="#3b78e7"/><polygon points="267.4,350.3 255.1,357.3 255.4,371.3" fill="#3b78e7" clip-path="url(#c21)"/><polygon points="255.5,343 267.88,350.15 267.88,364.45 255.5,371.6 243.12,364.45 243.12,350.15" fill="#fff"/><polygon points="255.5,346 265.29,351.65 265.29,362.95 255.5,368.6 245.71,362.95 245.71,351.65" fill="#3874e2"/><polygon points="255.5,350.2 261.91,353.9 261.91,361.3 255.5,365 249.09,361.3 249.09,353.9" fill="#fff"/><line x1="255.5" y1="357.3" x2="255.5" y2="345.3" stroke="#fff" stroke-width="1.4"/><line x1="255.5" y1="357.3" x2="245.11" y2="363.3" stroke="#fff" stroke-width="1.4"/><line x1="255.5" y1="357.3" x2="265.89" y2="363.3" stroke="#fff" stroke-width="1.4"/><polygon points="255.5,350.2 261.91,353.9 261.91,361.3 255.5,365 249.09,361.3 249.09,353.9" fill="#fff"/><line x1="255.5" y1="357.6" x2="249.09" y2="353.9" stroke="#3874e2" stroke-width="1.2"/><line x1="255.5" y1="357.6" x2="261.91" y2="353.9" stroke="#3874e2" stroke-width="1.2"/><line x1="255.5" y1="357.6" x2="255.5" y2="365" stroke="#3874e2" stroke-width="1.2"/><clipPath id="c22"><path d="M231.03 383Q231.9 384.5 231.03 386L222.42 400.93Q221.55 402.43 219.82 402.43L202.58 402.43Q200.85 402.43 199.98 400.93L191.37 386Q190.5 384.5 191.37 383L199.98 368.07Q200.85 366.57 202.58 366.57L219.82 366.57Q221.55 366.57 222.42 368.07Z"/></clipPath><path d="M231.03 383Q231.9 384.5 231.03 386L222.42 400.93Q221.55 402.43 219.82 402.43L202.58 402.43Q200.85 402.43 199.98 400.93L191.37 386Q190.5 384.5 191.37 383L199.98 368.07Q200.85 366.57 202.58 366.57L219.82 366.57Q221.55 366.57 222.42 368.07Z" fill="#2196f3"/><polygon clip-path="url(#c22)" points="220.5,378.2 260.5,418.2 244.9,433.8 204.9,393.8 211.2,384.5" fill="#1e7fd9"/><rect x="205.7" y="375.3" width="11" height="3" fill="#1565c8"/><rect x="205.7" y="390.9" width="11" height="3" fill="#1565c8"/><rect x="201.9" y="379.1" width="3" height="11" fill="#1565c8"/><rect x="217.5" y="379.1" width="3" height="11" fill="#1565c8"/><rect x="204.9" y="378.3" width="12.6" height="12.6" fill="#fff"/><rect x="205.8" y="375.3" width="2" height="18.6" fill="#fff"/><rect x="201.9" y="379.2" width="18.6" height="2" fill="#fff"/><rect x="210.2" y="375.3" width="2" height="18.6" fill="#fff"/><rect x="201.9" y="383.6" width="18.6" height="2" fill="#fff"/><rect x="214.6" y="375.3" width="2" height="18.6" fill="#fff"/><rect x="201.9" y="388" width="18.6" height="2" fill="#fff"/><rect x="208.2" y="381.6" width="6" height="6" fill="none" stroke="#1565c8" stroke-width="1.6"/><clipPath id="c23"><path d="M321.23 383Q322.1 384.5 321.23 386L312.62 400.93Q311.75 402.43 310.02 402.43L292.78 402.43Q291.05 402.43 290.18 400.93L281.57 386Q280.7 384.5 281.57 383L290.18 368.07Q291.05 366.57 292.78 366.57L310.02 366.57Q311.75 366.57 312.62 368.07Z"/></clipPath><path d="M321.23 383Q322.1 384.5 321.23 386L312.62 400.93Q311.75 402.43 310.02 402.43L292.78 402.43Q291.05 402.43 290.18 400.93L281.57 386Q280.7 384.5 281.57 383L290.18 368.07Q291.05 366.57 292.78 366.57L310.02 366.57Q311.75 366.57 312.62 368.07Z" fill="#2196f3"/><polygon clip-path="url(#c23)" points="310.7,378.2 350.7,418.2 335.1,433.8 295.1,393.8 301.4,384.5" fill="#1e7fd9"/><rect x="295.9" y="375.3" width="11" height="3" fill="#1565c8"/><rect x="295.9" y="390.9" width="11" height="3" fill="#1565c8"/><rect x="292.1" y="379.1" width="3" height="11" fill="#1565c8"/><rect x="307.7" y="379.1" width="3" height="11" fill="#1565c8"/><rect x="295.1" y="378.3" width="12.6" height="12.6" fill="#fff"/><rect x="296" y="375.3" width="2" height="18.6" fill="#fff"/><rect x="292.1" y="379.2" width="18.6" height="2" fill="#fff"/><rect x="300.4" y="375.3" width="2" height="18.6" fill="#fff"/><rect x="292.1" y="383.6" width="18.6" height="2" fill="#fff"/><rect x="304.8" y="375.3" width="2" height="18.6" fill="#fff"/><rect x="292.1" y="388" width="18.6" height="2" fill="#fff"/><rect x="298.4" y="381.6" width="6" height="6" fill="none" stroke="#1565c8" stroke-width="1.6"/><clipPath id="c24"><path d="M276.33 406.8Q277.2 408.3 276.33 409.8L267.72 424.73Q266.85 426.23 265.12 426.23L247.88 426.23Q246.15 426.23 245.28 424.73L236.67 409.8Q235.8 408.3 236.67 406.8L245.28 391.87Q246.15 390.37 247.88 390.37L265.12 390.37Q266.85 390.37 267.72 391.87Z"/></clipPath><path d="M276.33 406.8Q277.2 408.3 276.33 409.8L267.72 424.73Q266.85 426.23 265.12 426.23L247.88 426.23Q246.15 426.23 245.28 424.73L236.67 409.8Q235.8 408.3 236.67 406.8L245.28 391.87Q246.15 390.37 247.88 390.37L265.12 390.37Q266.85 390.37 267.72 391.87Z" fill="#2196f3"/><polygon clip-path="url(#c24)" points="265.8,402 305.8,442 290.2,457.6 250.2,417.6 256.5,408.3" fill="#1e7fd9"/><rect x="251" y="399.1" width="11" height="3" fill="#1565c8"/><rect x="251" y="414.7" width="11" height="3" fill="#1565c8"/><rect x="247.2" y="402.9" width="3" height="11" fill="#1565c8"/><rect x="262.8" y="402.9" width="3" height="11" fill="#1565c8"/><rect x="250.2" y="402.1" width="12.6" height="12.6" fill="#fff"/><rect x="251.1" y="399.1" width="2" height="18.6" fill="#fff"/><rect x="247.2" y="403" width="18.6" height="2" fill="#fff"/><rect x="255.5" y="399.1" width="2" height="18.6" fill="#fff"/><rect x="247.2" y="407.4" width="18.6" height="2" fill="#fff"/><rect x="259.9" y="399.1" width="2" height="18.6" fill="#fff"/><rect x="247.2" y="411.8" width="18.6" height="2" fill="#fff"/><rect x="253.5" y="405.4" width="6" height="6" fill="none" stroke="#1565c8" stroke-width="1.6"/><clipPath id="c25"><path d="M99.57 307.3Q101.3 310.3 99.57 313.3L87.43 334.32Q85.7 337.32 82.24 337.32L57.96 337.32Q54.5 337.32 52.77 334.32L40.63 313.3Q38.9 310.3 40.63 307.3L52.77 286.28Q54.5 283.28 57.96 283.28L82.24 283.28Q85.7 283.28 87.43 286.28Z"/></clipPath><path d="M99.57 307.3Q101.3 310.3 99.57 313.3L87.43 334.32Q85.7 337.32 82.24 337.32L57.96 337.32Q54.5 337.32 52.77 334.32L40.63 313.3Q38.9 310.3 40.63 307.3L52.77 286.28Q54.5 283.28 57.96 283.28L82.24 283.28Q85.7 283.28 87.43 286.28Z" fill="#4285f4"/><polygon clip-path="url(#c25)" points="82.4,303.3 142.4,363.3 130.4,384.3 70.4,324.3" fill="#3b78e7"/><polygon points="82.4,303.3 70.1,310.3 70.4,324.3" fill="#3b78e7" clip-path="url(#c25)"/><polygon points="70.5,296 82.88,303.15 82.88,317.45 70.5,324.6 58.12,317.45 58.12,303.15" fill="#fff"/><polygon points="70.5,299 80.29,304.65 80.29,315.95 70.5,321.6 60.71,315.95 60.71,304.65" fill="#3874e2"/><polygon points="70.5,303.2 76.91,306.9 76.91,314.3 70.5,318 64.09,314.3 64.09,306.9" fill="#fff"/><line x1="70.5" y1="310.3" x2="70.5" y2="298.3" stroke="#fff" stroke-width="1.4"/><line x1="70.5" y1="310.3" x2="60.11" y2="316.3" stroke="#fff" stroke-width="1.4"/><line x1="70.5" y1="310.3" x2="80.89" y2="316.3" stroke="#fff" stroke-width="1.4"/><polygon points="70.5,303.2 76.91,306.9 76.91,314.3 70.5,318 64.09,314.3 64.09,306.9" fill="#fff"/><line x1="70.5" y1="310.6" x2="64.09" y2="306.9" stroke="#3874e2" stroke-width="1.2"/><line x1="70.5" y1="310.6" x2="76.91" y2="306.9" stroke="#3874e2" stroke-width="1.2"/><line x1="70.5" y1="310.6" x2="70.5" y2="318" stroke="#3874e2" stroke-width="1.2"/><clipPath id="c26"><path d="M44.43 335.4Q45.3 336.9 44.43 338.4L35.82 353.33Q34.95 354.83 33.22 354.83L15.98 354.83Q14.25 354.83 13.38 353.33L4.77 338.4Q3.9 336.9 4.77 335.4L13.38 320.47Q14.25 318.97 15.98 318.97L33.22 318.97Q34.95 318.97 35.82 320.47Z"/></clipPath><path d="M44.43 335.4Q45.3 336.9 44.43 338.4L35.82 353.33Q34.95 354.83 33.22 354.83L15.98 354.83Q14.25 354.83 13.38 353.33L4.77 338.4Q3.9 336.9 4.77 335.4L13.38 320.47Q14.25 318.97 15.98 318.97L33.22 318.97Q34.95 318.97 35.82 320.47Z" fill="#2196f3"/><polygon clip-path="url(#c26)" points="33.9,330.6 73.9,370.6 58.3,386.2 18.3,346.2 24.6,336.9" fill="#1e7fd9"/><rect x="19.1" y="327.7" width="11" height="3" fill="#1565c8"/><rect x="19.1" y="343.3" width="11" height="3" fill="#1565c8"/><rect x="15.3" y="331.5" width="3" height="11" fill="#1565c8"/><rect x="30.9" y="331.5" width="3" height="11" fill="#1565c8"/><rect x="18.3" y="330.7" width="12.6" height="12.6" fill="#fff"/><rect x="19.2" y="327.7" width="2" height="18.6" fill="#fff"/><rect x="15.3" y="331.6" width="18.6" height="2" fill="#fff"/><rect x="23.6" y="327.7" width="2" height="18.6" fill="#fff"/><rect x="15.3" y="336" width="18.6" height="2" fill="#fff"/><rect x="28" y="327.7" width="2" height="18.6" fill="#fff"/><rect x="15.3" y="340.4" width="18.6" height="2" fill="#fff"/><rect x="21.6" y="334" width="6" height="6" fill="none" stroke="#1565c8" stroke-width="1.6"/><clipPath id="c27"><path d="M134.73 335.4Q135.6 336.9 134.73 338.4L126.12 353.33Q125.25 354.83 123.52 354.83L106.28 354.83Q104.55 354.83 103.68 353.33L95.07 338.4Q94.2 336.9 95.07 335.4L103.68 320.47Q104.55 318.97 106.28 318.97L123.52 318.97Q125.25 318.97 126.12 320.47Z"/></clipPath><path d="M134.73 335.4Q135.6 336.9 134.73 338.4L126.12 353.33Q125.25 354.83 123.52 354.83L106.28 354.83Q104.55 354.83 103.68 353.33L95.07 338.4Q94.2 336.9 95.07 335.4L103.68 320.47Q104.55 318.97 106.28 318.97L123.52 318.97Q125.25 318.97 126.12 320.47Z" fill="#2196f3"/><polygon clip-path="url(#c27)" points="124.2,330.6 164.2,370.6 148.6,386.2 108.6,346.2 114.9,336.9" fill="#1e7fd9"/><rect x="109.4" y="327.7" width="11" height="3" fill="#1565c8"/><rect x="109.4" y="343.3" width="11" height="3" fill="#1565c8"/><rect x="105.6" y="331.5" width="3" height="11" fill="#1565c8"/><rect x="121.2" y="331.5" width="3" height="11" fill="#1565c8"/><rect x="108.6" y="330.7" width="12.6" height="12.6" fill="#fff"/><rect x="109.5" y="327.7" width="2" height="18.6" fill="#fff"/><rect x="105.6" y="331.6" width="18.6" height="2" fill="#fff"/><rect x="113.9" y="327.7" width="2" height="18.6" fill="#fff"/><rect x="105.6" y="336" width="18.6" height="2" fill="#fff"/><rect x="118.3" y="327.7" width="2" height="18.6" fill="#fff"/><rect x="105.6" y="340.4" width="18.6" height="2" fill="#fff"/><rect x="111.9" y="334" width="6" height="6" fill="none" stroke="#1565c8" stroke-width="1.6"/><clipPath id="c28"><path d="M89.63 358.7Q90.5 360.2 89.63 361.7L81.02 376.63Q80.15 378.13 78.42 378.13L61.18 378.13Q59.45 378.13 58.58 376.63L49.97 361.7Q49.1 360.2 49.97 358.7L58.58 343.77Q59.45 342.27 61.18 342.27L78.42 342.27Q80.15 342.27 81.02 343.77Z"/></clipPath><path d="M89.63 358.7Q90.5 360.2 89.63 361.7L81.02 376.63Q80.15 378.13 78.42 378.13L61.18 378.13Q59.45 378.13 58.58 376.63L49.97 361.7Q49.1 360.2 49.97 358.7L58.58 343.77Q59.45 342.27 61.18 342.27L78.42 342.27Q80.15 342.27 81.02 343.77Z" fill="#2196f3"/><polygon clip-path="url(#c28)" points="79.1,353.9 119.1,393.9 103.5,409.5 63.5,369.5 69.8,360.2" fill="#1e7fd9"/><rect x="64.3" y="351" width="11" height="3" fill="#1565c8"/><rect x="64.3" y="366.6" width="11" height="3" fill="#1565c8"/><rect x="60.5" y="354.8" width="3" height="11" fill="#1565c8"/><rect x="76.1" y="354.8" width="3" height="11" fill="#1565c8"/><rect x="63.5" y="354" width="12.6" height="12.6" fill="#fff"/><rect x="64.4" y="351" width="2" height="18.6" fill="#fff"/><rect x="60.5" y="354.9" width="18.6" height="2" fill="#fff"/><rect x="68.8" y="351" width="2" height="18.6" fill="#fff"/><rect x="60.5" y="359.3" width="18.6" height="2" fill="#fff"/><rect x="73.2" y="351" width="2" height="18.6" fill="#fff"/><rect x="60.5" y="363.7" width="18.6" height="2" fill="#fff"/><rect x="66.8" y="357.3" width="6" height="6" fill="none" stroke="#1565c8" stroke-width="1.6"/><defs><linearGradient id="uh" x1="0" y1="0" x2="1" y2="0"><stop offset="0" stop-color="#8fbaf4"/><stop offset="0.45" stop-color="#6d9ce8"/><stop offset="1" stop-color="#3d6dd3"/></linearGradient><linearGradient id="ub" x1="0" y1="0" x2="1" y2="0"><stop offset="0" stop-color="#7aa9ef"/><stop offset="0.6" stop-color="#6c9de9"/><stop offset="1" stop-color="#3b6ad0"/></linearGradient><radialGradient id="un" cx="0.5" cy="0.5" r="0.5"><stop offset="0" stop-color="#1a47b0"/><stop offset="0.78" stop-color="#2453bd"/><stop offset="0.93" stop-color="#3564c9" stop-opacity="0.6"/><stop offset="1" stop-color="#3a68cc" stop-opacity="0"/></radialGradient></defs><clipPath id="ubc1"><path d="M27 99.52 A21.6 20.52 0 0 1 70.2 99.52 L70.2 111.5 Q70.2 120.5 48.6 120.5 Q27 120.5 27 111.5 Z"/></clipPath><path d="M27 99.52 A21.6 20.52 0 0 1 70.2 99.52 L70.2 111.5 Q70.2 120.5 48.6 120.5 Q27 120.5 27 111.5 Z" fill="url(#ub)"/><g clip-path="url(#ubc1)"><ellipse cx="48.7" cy="77.7" rx="16.8" ry="13.72" fill="url(#un)"/><path d="M27 115.5 Q48.6 122 70.2 115.5" fill="none" stroke="#3d6bd0" stroke-width="3" opacity="0.55"/></g><path d="M27 99.52 A21.6 20.52 0 0 1 70.2 99.52 L70.2 111.5 Q70.2 120.5 48.6 120.5 Q27 120.5 27 111.5 Z" fill="none" stroke="#3465c9" stroke-width="0.9"/><path d="M28.3 99.52 A20.3 19.22 0 0 1 68.9 99.52" fill="none" stroke="#c4dbfb" stroke-width="0.7" opacity="0.9"/><clipPath id="ubc2"><path d="M56 99.71 A21.8 20.71 0 0 1 99.6 99.71 L99.6 111.5 Q99.6 120.5 77.8 120.5 Q56 120.5 56 111.5 Z"/></clipPath><path d="M56 99.71 A21.8 20.71 0 0 1 99.6 99.71 L99.6 111.5 Q99.6 120.5 77.8 120.5 Q56 120.5 56 111.5 Z" fill="url(#ub)"/><g clip-path="url(#ubc2)"><ellipse cx="77.6" cy="78.8" rx="17.52" ry="14.31" fill="url(#un)"/><path d="M56 115.5 Q77.8 122 99.6 115.5" fill="none" stroke="#3d6bd0" stroke-width="3" opacity="0.55"/></g><path d="M56 99.71 A21.8 20.71 0 0 1 99.6 99.71 L99.6 111.5 Q99.6 120.5 77.8 120.5 Q56 120.5 56 111.5 Z" fill="none" stroke="#3465c9" stroke-width="0.9"/><path d="M57.3 99.71 A20.5 19.41 0 0 1 98.3 99.71" fill="none" stroke="#c4dbfb" stroke-width="0.7" opacity="0.9"/><circle cx="48.7" cy="66.7" r="14" fill="url(#uh)" stroke="#3465c9" stroke-width="0.9"/><path d="M35.9 69.7 Q48.7 73.7 61.5 69.7 A12.8 12.8 0 0 1 35.9 69.7 Z" fill="#7fb0f4" opacity="0.75"/><path d="M36.7 67.7 A12 12 0 0 1 60.7 67.7" fill="none" stroke="#c9defb" stroke-width="0.8" opacity="0.9"/><circle cx="77.6" cy="67.2" r="14.6" fill="url(#uh)" stroke="#3465c9" stroke-width="0.9"/><path d="M64.2 70.2 Q77.6 74.2 91 70.2 A13.4 13.4 0 0 1 64.2 70.2 Z" fill="#7fb0f4" opacity="0.75"/><path d="M65 68.2 A12.6 12.6 0 0 1 90.2 68.2" fill="none" stroke="#c9defb" stroke-width="0.8" opacity="0.9"/><clipPath id="ubc3"><path d="M39.7 114.8 A21.9 20.8 0 0 1 83.5 114.8 L83.5 126.6 Q83.5 135.6 61.6 135.6 Q39.7 135.6 39.7 126.6 Z"/></clipPath><path d="M39.7 114.8 A21.9 20.8 0 0 1 83.5 114.8 L83.5 126.6 Q83.5 135.6 61.6 135.6 Q39.7 135.6 39.7 126.6 Z" fill="url(#ub)"/><g clip-path="url(#ubc3)"><ellipse cx="61.8" cy="93.3" rx="17.04" ry="13.92" fill="url(#un)"/><path d="M39.7 130.6 Q61.6 137.1 83.5 130.6" fill="none" stroke="#3d6bd0" stroke-width="3" opacity="0.55"/></g><path d="M39.7 114.8 A21.9 20.8 0 0 1 83.5 114.8 L83.5 126.6 Q83.5 135.6 61.6 135.6 Q39.7 135.6 39.7 126.6 Z" fill="none" stroke="#3465c9" stroke-width="0.9"/><path d="M41 114.8 A20.6 19.5 0 0 1 82.2 114.8" fill="none" stroke="#c4dbfb" stroke-width="0.7" opacity="0.9"/><circle cx="61.8" cy="82.1" r="14.2" fill="url(#uh)" stroke="#3465c9" stroke-width="0.9"/><path d="M48.8 85.1 Q61.8 89.1 74.8 85.1 A13 13 0 0 1 48.8 85.1 Z" fill="#7fb0f4" opacity="0.75"/><path d="M49.6 83.1 A12.2 12.2 0 0 1 74 83.1" fill="none" stroke="#c9defb" stroke-width="0.8" opacity="0.9"/><defs><linearGradient id="fwf" gradientUnits="userSpaceOnUse" x1="243" y1="525" x2="261" y2="505"><stop offset="0" stop-color="#eb5420"/><stop offset="0.45" stop-color="#f07a48"/><stop offset="0.8" stop-color="#f6bd9a"/><stop offset="1" stop-color="#f3e0c6"/></linearGradient><linearGradient id="fws" x1="0" y1="0" x2="1" y2="0"><stop offset="0" stop-color="#f3ead6"/><stop offset="1" stop-color="#ef7a4c"/></linearGradient></defs><polygon points="240.5,500.3 247.5,497.5 265.3,506.5 265.3,532.8 258.4,535.3 240.5,526" fill="url(#fwf)"/><polygon points="258.6,509.8 265.3,506.5 265.3,532.8 258.6,535" fill="url(#fws)"/><g stroke="#f2e3c6" stroke-width="0.9"><line x1="241" y1="501.2" x2="258.6" y2="510.44"/><line x1="241" y1="505.6" x2="258.6" y2="514.84"/><line x1="241" y1="510" x2="258.6" y2="519.24"/><line x1="241" y1="514.4" x2="258.6" y2="523.64"/><line x1="241" y1="518.8" x2="258.6" y2="528.04"/><line x1="241" y1="523.2" x2="258.6" y2="532.44"/><line x1="245.5" y1="503.56" x2="245.5" y2="507.96"/><line x1="253.5" y1="507.76" x2="253.5" y2="512.16"/><line x1="249.5" y1="510.06" x2="249.5" y2="514.46"/><line x1="245.5" y1="512.36" x2="245.5" y2="516.76"/><line x1="253.5" y1="516.56" x2="253.5" y2="520.96"/><line x1="249.5" y1="518.86" x2="249.5" y2="523.26"/><line x1="245.5" y1="521.16" x2="245.5" y2="525.56"/><line x1="253.5" y1="525.36" x2="253.5" y2="529.76"/><line x1="249.5" y1="527.66" x2="249.5" y2="532.06"/></g><line x1="258.6" y1="509.8" x2="258.6" y2="535" stroke="#efe4cc" stroke-width="1.3"/><line x1="258.6" y1="509.8" x2="265" y2="506.6" stroke="#efe4cc" stroke-width="1"/><polygon points="240.5,500.3 247.5,497.5 265.3,506.5 265.3,532.8 258.4,535.3 240.5,526" fill="none" stroke="#000" stroke-width="1.8" stroke-linejoin="round"/><defs><linearGradient id="rtt" gradientUnits="userSpaceOnUse" x1="240" y1="556" x2="262" y2="585"><stop offset="0" stop-color="#d6d6d6"/><stop offset="1" stop-color="#f4f4f4"/></linearGradient><linearGradient id="rts" x1="0" y1="0" x2="1" y2="0"><stop offset="0" stop-color="#ffffff"/><stop offset="1" stop-color="#a9a9a9"/></linearGradient><clipPath id="rtc"><path d="M228.2 563.3 L245 554.6 L277.4 572.5 L277.4 585.5 L261.3 593.4 C260 592,258 590,256 589.4 C252 589,248 588,244.4 587 C242.5 586.5,240.5 585.3,238.6 583.1 C237.5 582,237 580,235.7 578.7 C233.5 578,231 577,228.2 575.4 Z"/></clipPath></defs><path d="M228.2 563.3 L245 554.6 L277.4 572.5 L277.4 585.5 L261.3 593.4 C260 592,258 590,256 589.4 C252 589,248 588,244.4 587 C242.5 586.5,240.5 585.3,238.6 583.1 C237.5 582,237 580,235.7 578.7 C233.5 578,231 577,228.2 575.4 Z" fill="url(#rtt)"/><g clip-path="url(#rtc)"><path d="M226 574.2 C231 577,233.5 578,235.7 578.7 C237 580,237.5 582,238.6 583.1 C240.5 585.3,242.5 586.5,244.4 587 C248 588,252 589,256 589.4 C258 590,260 592,262 594 L262 600 L226 600 Z" fill="#fff" transform="translate(0,-6.5)"/><path d="M226 574.2 C231 577,233.5 578,235.7 578.7 C237 580,237.5 582,238.6 583.1 C240.5 585.3,242.5 586.5,244.4 587 C248 588,252 589,256 589.4 C258 590,260 592,262 594" fill="none" stroke="#000" stroke-width="0.95" transform="translate(0,-2.1)"/><path d="M226 574.2 C231 577,233.5 578,235.7 578.7 C237 580,237.5 582,238.6 583.1 C240.5 585.3,242.5 586.5,244.4 587 C248 588,252 589,256 589.4 C258 590,260 592,262 594" fill="none" stroke="#000" stroke-width="0.95" transform="translate(0,-4.2)"/><path d="M226 574.2 C231 577,233.5 578,235.7 578.7 C237 580,237.5 582,238.6 583.1 C240.5 585.3,242.5 586.5,244.4 587 C248 588,252 589,256 589.4 C258 590,260 592,262 594" fill="none" stroke="#000" stroke-width="0.95" transform="translate(0,-6.3)"/></g><polygon points="261.3,581 277.4,572.5 277.4,585.5 261.3,593.4" fill="url(#rts)"/><path d="M229.8 565 L236 568.3 L236.5 573.5 L229.8 570.3 Z" fill="#e8e8e8" stroke="#000" stroke-width="0.9"/><rect x="231.3" y="567.2" width="2.2" height="2.4" fill="#fff" stroke="#000" stroke-width="0.5"/><polygon points="238.5,571.5 242.5,574.5 238.5,577" fill="#33b23f"/><polygon points="240.5,578 244,580.5 240.5,582" fill="#33b23f"/><path d="M228.2 563.3 L245 554.6 L277.4 572.5 L277.4 585.5 L261.3 593.4 C260 592,258 590,256 589.4 C252 589,248 588,244.4 587 C242.5 586.5,240.5 585.3,238.6 583.1 C237.5 582,237 580,235.7 578.7 C233.5 578,231 577,228.2 575.4 Z" fill="none" stroke="#000" stroke-width="1.8" stroke-linejoin="round"/><polyline points="261.3,581 277.4,572.5" fill="none" stroke="#000" stroke-width="1.2"/><line x1="261.3" y1="581" x2="261.3" y2="593.4" stroke="#000" stroke-width="1.1"/><rect x="79" y="599.1" width="14" height="7" fill="#6e6e6e"/><path d="M86.2 600.4 C85 602.3,84.7 603.3,85.2 604 C85.7 604.6,86.7 604.6,87.2 604 C87.7 603.3,87.4 602.3,86.2 600.4 Z" fill="#fff"/><polygon points="79,605.4 95,609 95,662.4 79,658.6" fill="#a3a3a3"/><polygon points="79,605.4 81,605.8 81,659 79,658.6" fill="#7a7a7a"/><polygon points="79,650 95,662.4 79,658.6" fill="#777"/><polygon points="79,605.4 84,605.4 109,609.6 95,609.6" fill="#d8d8d8"/><rect x="95" y="609" width="14" height="55.5" fill="#f7f7f7" stroke="#b5b5b5" stroke-width="0.8"/><rect x="107.3" y="609.5" width="1.5" height="54.5" fill="#c8c8c8"/><g stroke="#b9dcb9" stroke-width="0.6"><line x1="98.3" y1="613.6" x2="98.3" y2="620.6"/><line x1="102.2" y1="613.6" x2="102.2" y2="620.6"/><line x1="106.1" y1="613.6" x2="106.1" y2="620.6"/><line x1="97" y1="614.3" x2="107.5" y2="614.3"/><line x1="97" y1="617.1" x2="107.5" y2="617.1"/><line x1="97" y1="619.9" x2="107.5" y2="619.9"/></g><rect x="97.45" y="614.85" width="1.7" height="1.7" fill="#3fae49"/><rect x="97.45" y="617.65" width="1.7" height="1.7" fill="#3fae49"/><rect x="101.35" y="614.85" width="1.7" height="1.7" fill="#3fae49"/><rect x="101.35" y="617.65" width="1.7" height="1.7" fill="#3fae49"/><rect x="105.25" y="614.85" width="1.7" height="1.7" fill="#3fae49"/><rect x="105.25" y="617.65" width="1.7" height="1.7" fill="#3fae49"/><rect x="96.7" y="622.2" width="10" height="11.8" fill="#fff" stroke="#8a8a8a" stroke-width="0.9"/><rect x="97.8" y="623.4" width="3.6" height="4.4" fill="#7b7b7b"/><rect x="102" y="623.4" width="3.6" height="4.4" fill="#7b7b7b"/><rect x="97.8" y="628.5" width="3.6" height="4.4" fill="#7b7b7b"/><rect x="102" y="628.5" width="3.6" height="4.4" fill="#7b7b7b"/><circle cx="104.6" cy="636.7" r="1.2" fill="none" stroke="#8a8a8a" stroke-width="0.7"/><circle cx="104.6" cy="641.3" r="1.2" fill="none" stroke="#8a8a8a" stroke-width="0.7"/><circle cx="104.6" cy="645.8" r="1.2" fill="none" stroke="#8a8a8a" stroke-width="0.7"/><circle cx="104.6" cy="649.9" r="1.2" fill="none" stroke="#8a8a8a" stroke-width="0.7"/><rect x="101.2" y="653.5" width="5.8" height="9" fill="#eee" stroke="#9a9a9a" stroke-width="0.7"/><line x1="101.5" y1="655.5" x2="106.8" y2="655.5" stroke="#aaa" stroke-width="0.5"/><line x1="101.5" y1="657.5" x2="106.8" y2="657.5" stroke="#aaa" stroke-width="0.5"/><line x1="101.5" y1="659.5" x2="106.8" y2="659.5" stroke="#aaa" stroke-width="0.5"/><line x1="101.5" y1="661.5" x2="106.8" y2="661.5" stroke="#aaa" stroke-width="0.5"/><rect x="432.3" y="576.3" width="3.6" height="40" rx="1.8" fill="#6d6e71"/><rect x="434" y="610" width="14" height="3.9" fill="#6d6e71"/><rect x="446.5" y="601.7" width="43" height="45" rx="2.5" fill="#6d6e71"/><rect x="445.8" y="601.7" width="45" height="3.2" rx="1.2" fill="#6d6e71"/><rect x="450.6" y="605.6" width="35.4" height="37.4" rx="2.5" fill="none" stroke="#fff" stroke-width="1"/><rect x="489" y="607" width="2.6" height="13" fill="#6d6e71"/><rect x="489" y="630" width="2.6" height="13" fill="#6d6e71"/><rect x="442.1" y="623.2" width="4.6" height="11.2" fill="#3aaa3a"/><rect x="442.1" y="636.3" width="4.6" height="8.3" fill="#3aaa3a"/><rect x="582.4" y="590.2" width="31.8" height="48.2" rx="3" fill="#fff" stroke="#6d6e71" stroke-width="1.3"/><rect x="587.3" y="595" width="21.8" height="23.2" rx="1.5" fill="#6d6e71"/><path d="M590.5 597.8 L605.9 597.8 L602.5 614.5 L593.9 614.5 Z" fill="#fff"/><path d="M593.5 603 C595 598.5,597 598.5,598 602.5 C599 606.5,601 606.5,602.5 602" fill="none" stroke="#6d6e71" stroke-width="0.9"/><circle cx="598.2" cy="613.5" r="3.2" fill="#6d6e71"/><circle cx="591" cy="612.8" r="1.1" fill="#fff"/><circle cx="605.4" cy="612.8" r="1.1" fill="#fff"/><polyline points="598.2,638.5 598.2,644.6 670.6,644.6" fill="none" stroke="#6d6e71" stroke-width="1.5"/><rect x="626.9" y="642.6" width="43.7" height="3" fill="#6d6e71"/><rect x="635" y="609.8" width="11.7" height="6.5" fill="#6d6e71"/><circle cx="640.8" cy="612.5" r="1" fill="#fff"/><path d="M632 615.6 L663 615.6 Q665.6 615.6 665.6 618.2 L665.6 638.2 Q665.6 640.8 663 640.8 L632 640.8 Q625.6 640.8 625.6 628.2 Q625.6 615.6 632 615.6 Z" fill="#fff" stroke="#6d6e71" stroke-width="1.4"/><rect x="632.3" y="620.4" width="18.5" height="2.4" rx="0.6" fill="#6d6e71"/><rect x="632.3" y="623.85" width="18.5" height="2.4" rx="0.6" fill="#6d6e71"/><rect x="632.3" y="627.3" width="18.5" height="2.4" rx="0.6" fill="#6d6e71"/><rect x="632.3" y="630.75" width="18.5" height="2.4" rx="0.6" fill="#6d6e71"/><rect x="632.3" y="634.2" width="18.5" height="2.4" rx="0.6" fill="#6d6e71"/><line x1="654.2" y1="616" x2="654.2" y2="640.5" stroke="#6d6e71" stroke-width="1.2"/><rect x="665.6" y="620" width="3" height="17" fill="#6d6e71"/><rect x="668.6" y="626.8" width="6.8" height="3.4" fill="#6d6e71"/><circle cx="14.3" cy="759" r="1.6" fill="#2a2430"/><circle cx="46.5" cy="759" r="1.6" fill="#2a2430"/><rect x="17.9" y="772" width="25.4" height="12.2" rx="1.5" fill="#f4f3f6" stroke="#231f26" stroke-width="0.9"/><rect x="20.3" y="772" width="20.6" height="6.8" fill="#4f4656" stroke="#231f26" stroke-width="0.6"/><line x1="24.2" y1="773" x2="24.2" y2="777" stroke="#231f26" stroke-width="0.7"/><line x1="28.2" y1="773" x2="28.2" y2="777" stroke="#231f26" stroke-width="0.7"/><line x1="32.2" y1="773" x2="32.2" y2="777" stroke="#231f26" stroke-width="0.7"/><line x1="36.2" y1="773" x2="36.2" y2="777" stroke="#231f26" stroke-width="0.7"/><rect x="15.3" y="744.1" width="30.2" height="29.2" rx="2.6" fill="#5a5161" stroke="#231f26" stroke-width="1"/><rect x="18.7" y="747.6" width="22.6" height="23" fill="#ebe9ee" stroke="#231f26" stroke-width="0.7"/><rect x="22.6" y="754.2" width="15.6" height="4.3" rx="2" fill="#2c2630"/><rect x="24.2" y="755" width="1.8" height="2.7" fill="#6a6070"/><rect x="27.1" y="755" width="1.8" height="2.7" fill="#6a6070"/><rect x="30" y="755" width="1.8" height="2.7" fill="#6a6070"/><rect x="32.9" y="755" width="1.8" height="2.7" fill="#6a6070"/><rect x="35.6" y="755" width="1.8" height="2.7" fill="#e0404a"/><circle cx="24" cy="762.8" r="1.7" fill="#4a4250"/><circle cx="30.3" cy="762.8" r="1.7" fill="#4a4250"/><circle cx="30.3" cy="762.8" r="0.8" fill="#d9323f"/><circle cx="36.7" cy="762.8" r="1.7" fill="#4a4250"/><path d="M88.4 747.6 L92.8 745 L100 744 L103 746 L103 756 L99.5 757.2 L95.3 754.8 L88.4 752.4 L91.6 750 Z" fill="#6d6e71"/><circle cx="102.6" cy="751.4" r="5.4" fill="#6d6e71"/><circle cx="102.6" cy="751.4" r="3.9" fill="#fff"/><circle cx="102.6" cy="751.4" r="3" fill="#fff" stroke="#9a9a9c" stroke-width="0.6"/><rect x="100.7" y="750.7" width="3.8" height="1.4" rx="0.6" fill="#8a8a8c"/><polygon points="95.8,756 102.2,756 101.2,766 97.2,766" fill="#6d6e71"/><path d="M89 764.5 Q98.5 768.5 108.5 763.5 L108.5 777.5 Q98.5 774 89 779.5 Z" fill="#6d6e71"/><ellipse cx="88.9" cy="772" rx="3.9" ry="9.8" fill="#6d6e71"/><ellipse cx="108.9" cy="770.3" rx="4.6" ry="9.4" fill="#6d6e71"/><ellipse cx="88.6" cy="772" rx="2.3" ry="7.3" fill="none" stroke="#fff" stroke-width="0.8" stroke-dasharray="1.4 1.9"/><path d="M87.5 768 L89.5 772 L87.5 776" fill="none" stroke="#fff" stroke-width="0.6"/><path d="M106.6 763 L106.6 778" stroke="#fff" stroke-width="0.8" stroke-dasharray="1.3 2.6"/><rect x="162.7" y="744.6" width="34.4" height="39" rx="2.2" fill="#fff" stroke="#6d6e71" stroke-width="1.3"/><rect x="166.9" y="750.4" width="26" height="9.6" rx="1" fill="#fff" stroke="#6d6e71" stroke-width="1"/><text x="169" y="758" style="font-size:7px;fill:#6d6e71;letter-spacing:-0.3px" textLength="18" lengthAdjust="spacingAndGlyphs">10,000</text><circle cx="171.8" cy="765.5" r="2.2" fill="#fff" stroke="#6d6e71" stroke-width="1"/><circle cx="180" cy="765.5" r="2.2" fill="#fff" stroke="#6d6e71" stroke-width="1"/><circle cx="188.2" cy="765.5" r="2.2" fill="#fff" stroke="#6d6e71" stroke-width="1"/><circle cx="175.7" cy="771.7" r="2.4" fill="#6d6e71"/><circle cx="184.3" cy="771.7" r="2.4" fill="#6d6e71"/><text x="180" y="780" text-anchor="middle" style="font-size:5px;font-weight:bold;fill:#6d6e71">STU</text><polygon points="229.7,769 276.5,775.2 276.5,784.5 229.7,777.9" fill="#a7a9ac"/><path d="M233 770 C234 765,241 764,245 769" fill="none" stroke="#6d6e71" stroke-width="0.7"/><path d="M262 771 C263 768,268 767,270 772" fill="none" stroke="#6d6e71" stroke-width="0.7"/><rect x="247" y="768.5" width="4" height="3.5" fill="#fff" stroke="#6d6e71" stroke-width="0.5"/><rect x="258" y="770" width="4" height="3.5" fill="#fff" stroke="#6d6e71" stroke-width="0.5"/><line x1="250.5" y1="772" x2="249.5" y2="781" stroke="#6d6e71" stroke-width="0.8"/><line x1="258.5" y1="773" x2="257.5" y2="782" stroke="#6d6e71" stroke-width="0.8"/><rect x="257.8" y="762" width="1.6" height="9" fill="#6d6e71"/><rect x="256.5" y="761.5" width="4.2" height="2" fill="#6d6e71"/><path d="M264 743.8 A4.7 9.2 0 0 1 264 762.2" fill="#fff" stroke="#9a9a9c" stroke-width="0.6"/><rect x="243.5" y="743.6" width="20.5" height="18.6" rx="1.5" fill="#fff" stroke="#6d6e71" stroke-width="0.8"/><rect x="247.6" y="748.6" width="12.4" height="8.9" fill="#fff" stroke="#6d6e71" stroke-width="2.4"/><path d="M307.8 753.3 L307.8 779 A14.8 5.2 0 0 0 337.4 779 L337.4 753.3" fill="#fff" stroke="#a0a0a0" stroke-width="0.6"/><path d="M308.3 770.5 A14.3 3.5 0 0 1 336.9 770.5 L336.9 779 A14.3 5 0 0 1 308.3 779 Z" fill="#fff" stroke="#4fb6e8" stroke-width="0.9"/><ellipse cx="322.6" cy="753.3" rx="14.8" ry="5" fill="#fff" stroke="#8a8a8a" stroke-width="0.7"/><path d="M315 761.5 L321.5 761.5 L314 767.5" fill="none" stroke="#6d6e71" stroke-width="0.8"/><rect x="323" y="759.8" width="7.5" height="3.3" rx="1" fill="#6d6e71"/><path d="M312 767.5 L315.5 765 L316.5 766.2 L313 768.7 Z" fill="#6d6e71" stroke="#6d6e71" stroke-width="0.8"/><rect x="387.3" y="748.6" width="29.7" height="25" fill="#6d6e71"/><rect x="388.5" y="750" width="4.5" height="14" fill="none" stroke="#d0d0d0" stroke-width="0.6"/><rect x="410.8" y="750" width="4.5" height="14" fill="none" stroke="#d0d0d0" stroke-width="0.6"/><rect x="397" y="750.5" width="12" height="2.5" fill="none" stroke="#d0d0d0" stroke-width="0.5"/><rect x="399.5" y="755.5" width="5" height="8" rx="1.8" fill="none" stroke="#e0e0e0" stroke-width="0.7"/><line x1="397.5" y1="755.5" x2="397.5" y2="763.5" stroke="#3ab54a" stroke-width="0.9"/><line x1="406.5" y1="755.5" x2="406.5" y2="763.5" stroke="#3ab54a" stroke-width="0.9"/><rect x="409.5" y="768.5" width="7.5" height="5" fill="#3ab54a"/><circle cx="389.3" cy="770.3" r="1.6" fill="none" stroke="#fff" stroke-width="0.8"/><path d="M392.3 765 C393.2 764.5,394.2 765,394.5 766 L396 771 L396.5 768 C397 766.8,398.8 766.8,399.2 768 L399.5 768.5 C400 766.5,403 766.5,403.5 768.3 L404 769 C404.5 767.8,407 768,407.5 769.5 L408.5 771 C409.5 770,410.8 770.5,410.8 772 L410.3 779 C410 783,406 785,401 784.8 C396.5 784.6,393.5 783,392 780 L389.2 776.5 C388.5 775.5,389.5 774.5,390.5 775.2 L393.5 777.5 L391.5 766.5 C391.4 765.6,391.8 765.1,392.3 765 Z" fill="#fff" stroke="#6d6e71" stroke-width="0.6"/><path d="M67.91 178.17L68.05 180.31 68.18 182.46 68.3 184.6 68.4 186.75 68.49 188.89 68.56 191.04 68.62 193.18 68.67 195.33 68.71 197.48 68.73 199.63 68.75 201.78 68.75 203.93 68.75 206.08 68.74 208.23 68.72 210.38 68.69 212.53 68.66 214.68 68.62 216.83 68.57 218.98 68.52 221.13 68.46 223.28 68.4 225.44 68.34 227.59 68.27 229.74 68.21 231.89 68.14 234.05 68.07 236.2 68 238.35 67.93 240.5 67.86 242.66 67.79 244.81 67.72 246.96 67.66 249.11 67.6 251.27 67.55 253.42 67.5 255.57 67.45 257.72 67.41 259.87 67.37 262.02 67.35 264.18 67.33 266.33 67.31 268.48 67.31 270.63 67.32 272.78 67.32 273.31" fill="none" stroke="#000" stroke-width="2.3" stroke-linejoin="round"/><polygon points="67.4,279.4 62.09,268.45 67.31,270.6 72.49,268.35" fill="#000"/><polygon points="67.4,172.1 73.44,182.66 68.09,180.87 63.07,183.47" fill="#000"/><path d="M105.88 297.56L107.6 296.54 109.47 295.36 111.3 294.14 113.09 292.87 114.83 291.57 116.55 290.23 118.22 288.85 119.87 287.44 121.48 285.99 123.06 284.51 124.61 283 126.13 281.47 127.63 279.9 129.1 278.31 130.55 276.7 131.98 275.06 133.39 273.41 134.78 271.73 136.16 270.04 137.52 268.33 138.87 266.61 140.2 264.87 141.53 263.12 142.85 261.37 144.16 259.6 145.47 257.83 146.77 256.06 148.07 254.28 149.37 252.5 150.67 250.72 151.97 248.94 153.28 247.17 154.59 245.4 155.91 243.63 157.24 241.88 158.58 240.13 159.94 238.4 161.3 236.68 162.69 234.97 164.09 233.28 165.5 231.61 166.94 229.95 168.4 228.32 169.88 226.71 171.39 225.12 172.93 223.56 174.49 222.03 176.08 220.52 177.71 219.05 179.36 217.61 181.05 216.2 182.78 214.83 184.55 213.49 186.35 212.19 187.45 211.43" fill="none" stroke="#000" stroke-width="2.3" stroke-linejoin="round"/><polygon points="192.6,208.2 186.22,218.56 185.23,213 180.55,209.85" fill="#000"/><polygon points="100.5,300.4 107.62,290.54 108.21,296.15 112.64,299.64" fill="#000"/><path d="M262.9 155.5L264.52 154.12 266.2 152.81 267.91 151.57 269.66 150.4 271.45 149.28 273.27 148.22 275.13 147.21 277.01 146.24 278.91 145.31 280.83 144.42 282.77 143.56 284.73 142.72 286.7 141.91 288.68 141.11 290.67 140.33 292.66 139.55 294.65 138.77 296.64 137.99 298.63 137.2 300.61 136.41 302.57 135.59 304.53 134.76 306.46 133.89 308.38 133 310.27 132.07 312.14 131.1 313.99 130.09 315.8 129.03 317.57 127.91 319.31 126.73 321.01 125.49 322.67 124.18 324.28 122.8 325.85 121.34 326.46 120.73" fill="none" stroke="#000" stroke-width="2.3" stroke-linejoin="round"/><polygon points="330.4,116.2 326.75,127.81 324.43,122.66 319.11,120.75" fill="#000"/><polygon points="258.6,159.8 263.02,148.46 265,153.76 270.17,156.02" fill="#000"/><path d="M444.72 69L446.98 69.21 449.25 69.4 451.52 69.57 453.79 69.71 456.06 69.84 458.34 69.94 460.61 70.03 462.9 70.1 465.18 70.15 467.47 70.18 469.75 70.2 472.04 70.2 474.34 70.19 476.63 70.17 478.93 70.13 481.22 70.08 483.52 70.03 485.82 69.96 488.12 69.88 490.42 69.8 492.72 69.71 495.03 69.61 497.33 69.5 499.64 69.4 501.94 69.28 504.25 69.17 506.55 69.05 508.86 68.93 511.16 68.82 513.46 68.7 515.77 68.58 518.07 68.47 520.38 68.35 522.68 68.25 524.98 68.14 527.28 68.05 529.58 67.96 531.88 67.87 534.18 67.8 536.47 67.73 538.76 67.67 541.06 67.63 543.35 67.59 545.63 67.57 547.92 67.56 550.2 67.57 552.49 67.59 554.76 67.62 557.04 67.67 559.31 67.74 561.59 67.83 563.85 67.94 566.12 68.06 568.38 68.21 570.64 68.38 572.89 68.57 575.14 68.79 577.39 69.03 579.63 69.29 581.87 69.58 584.11 69.9 586.34 70.25 588.57 70.62 590.79 71.02 593.01 71.45 595.22 71.92 597.43 72.41 599.63 72.94 601.83 73.5 604.02 74.1 606.21 74.73 608.39 75.4 610.57 76.1 612.74 76.85 614.91 77.63 617.06 78.45 619.22 79.31 621.36 80.21 623.2 81.02 625.03 81.85 626.25 82.43" fill="none" stroke="#000" stroke-width="2.3" stroke-linejoin="round"/><polygon points="631.7,85.2 619.54,84.98 623.82,81.29 624.15,75.66" fill="#000"/><polygon points="438.6,68.3 450.09,64.3 447.35,69.24 448.98,74.65" fill="#000"/><path d="M427.81 151.53L428.69 153.47 429.6 155.39 430.55 157.29 431.53 159.18 432.54 161.05 433.57 162.91 434.63 164.75 435.71 166.58 436.81 168.4 437.93 170.21 439.07 172.01 440.22 173.8 441.39 175.59 442.57 177.36 443.76 179.14 444.95 180.91 446.15 182.67 447.36 184.43 448.57 186.2 449.78 187.96 450.98 189.72 452.19 191.48 453.38 193.25 454.57 195.02 455.76 196.8 456.93 198.58 458.09 200.37 459.23 202.17 460.36 203.98 461.46 205.8 462.55 207.63 463.62 209.47 464.66 211.32 465.68 213.19 466.67 215.07 467.62 216.98 468.55 218.89 469.44 220.83 470.3 222.79 471.12 224.76 471.43 225.53" fill="none" stroke="#000" stroke-width="2.3" stroke-linejoin="round"/><polygon points="473.5,231.3 464.77,222.82 470.41,223.06 474.51,219.18" fill="#000"/><polygon points="425.5,145.9 434.59,153.99 428.94,154 425.01,158.06" fill="#000"/><path d="M442.98 120.86L444.47 122.24 445.97 123.6 447.49 124.95 449.02 126.28 450.56 127.59 452.11 128.89 453.68 130.17 455.25 131.44 456.84 132.7 458.44 133.93 460.04 135.16 461.66 136.37 463.29 137.57 464.92 138.76 466.57 139.94 468.22 141.1 469.89 142.26 471.56 143.4 473.23 144.54 474.92 145.67 476.61 146.78 478.3 147.89 480.01 148.99 481.71 150.09 483.43 151.17 485.15 152.26 486.87 153.33 488.6 154.4 490.33 155.46 492.06 156.52 493.8 157.58 495.54 158.63 497.29 159.68 499.03 160.73 500.78 161.78 502.53 162.82 504.28 163.86 506.02 164.9 507.77 165.95 509.52 166.99 511.27 168.03 513.02 169.08 514.77 170.12 516.52 171.17 518.26 172.22 520 173.27 521.74 174.33 523.48 175.39 525.21 176.46 526.94 177.53 528.67 178.61 530.39 179.69 532.1 180.78 533.82 181.88 535.52 182.98 537.22 184.09 538.92 185.21 540.6 186.34 542.28 187.48 543.96 188.63 545.62 189.78 547.28 190.95 548.93 192.13 550.57 193.33 552.2 194.53 553.83 195.74 555.45 196.97 557.06 198.2 558.66 199.44 560.26 200.7 561.85 201.96 563.43 203.23 565 204.51 566.58 205.79 568.14 207.09 569.7 208.39 571.25 209.7 572.8 211.02 574.35 212.34 575.89 213.67 577.42 215.01 578.95 216.35 580.48 217.69 582 219.05 583.52 220.4 585.04 221.76 586.55 223.13 588.06 224.5 589.57 225.87 591.07 227.24 592.58 228.62 594.08 230 595.58 231.38 597.08 232.76 598.58 234.15 600.07 235.54 601.57 236.92 603.06 238.31 604.56 239.7 606.06 241.09 607.55 242.48 609.05 243.86 610.54 245.25 612.04 246.63 613.54 248.02 615.04 249.4 616.54 250.78 618.05 252.15 619.55 253.53 621.06 254.9 622.57 256.26 624.09 257.63 625.6 258.98 626.82 260.07" fill="none" stroke="#000" stroke-width="2.3" stroke-linejoin="round"/><polygon points="631.4,264.1 619.71,260.71 624.81,258.27 626.61,252.92" fill="#000"/><polygon points="438.6,116.6 450.14,120.44 444.96,122.68 442.96,127.96" fill="#000"/><path d="M351.67 177.59L350.68 179.63 349.71 181.69 348.75 183.75 347.81 185.83 346.89 187.91 345.99 189.99 345.09 192.09 344.22 194.19 343.36 196.3 342.51 198.41 341.67 200.53 340.84 202.65 340.03 204.78 339.23 206.92 338.44 209.06 337.65 211.2 336.88 213.35 336.11 215.5 335.36 217.65 334.6 219.81 333.86 221.97 333.12 224.13 332.39 226.3 331.66 228.46 331.02 230.36 330.39 232.26 329.76 234.16 329.13 236.06 328.42 238.23 327.7 240.4 326.98 242.57 326.27 244.74 325.55 246.91 324.83 249.07 324.12 251.24 323.39 253.4 322.67 255.57 321.94 257.73 321.2 259.88 320.46 262.04 319.72 264.19 318.97 266.34 318.21 268.48 317.44 270.62 316.66 272.75 315.87 274.88 315.07 277 314.25 279.11 313.41 281.21 312.56 283.31 311.69 285.39 310.8 287.47 309.89 289.53 308.96 291.58 308 293.62 307.02 295.64 306.01 297.65 304.97 299.65 303.9 301.63 302.8 303.6 301.67 305.54 300.51 307.47 299.31 309.38 298.07 311.28 296.8 313.15 295.49 315 294.13 316.83 292.74 318.64 291.48 320.2 290.19 321.75 289.82 322.19" fill="none" stroke="#000" stroke-width="2.3" stroke-linejoin="round"/><polygon points="285.7,326.7 289.11,315.02 291.54,320.12 296.89,321.92" fill="#000"/><polygon points="354.5,172 354.24,184.16 350.57,179.87 344.93,179.52" fill="#000"/><path d="M234.78 415.21L235.02 417.28 235.29 419.35 235.59 421.42 235.91 423.48 236.27 425.54 236.64 427.6 237.04 429.65 237.46 431.7 237.89 433.75 238.34 435.8 238.81 437.84 239.28 439.88 239.76 441.92 240.25 443.97 240.74 446.01 241.23 448.05 241.72 450.09 242.21 452.13 242.7 454.17 243.17 456.21 243.64 458.25 244.09 460.3 244.54 462.34 244.96 464.39 245.37 466.44 245.76 468.5 246.12 470.55 246.46 472.61 246.77 474.68 247.05 476.74 247.3 478.82 247.52 480.89 247.7 482.97 247.85 485.06 247.95 487.15 248.01 489.25 248.02 491.35" fill="none" stroke="#000" stroke-width="2.3" stroke-linejoin="round"/><polygon points="247.8,497.4 242.84,486.29 247.99,488.6 253.24,486.51" fill="#000"/><polygon points="234.3,409.1 240.47,419.59 235.09,417.86 230.11,420.52" fill="#000"/><path d="M265.65 489.2L268.26 488.94 270.86 488.66 273.46 488.34 276.05 487.98 278.64 487.6 281.21 487.18 283.79 486.74 286.35 486.26 288.91 485.74 291.45 485.2 293.99 484.62 296.52 484.01 299.05 483.37 301.56 482.7 304.06 482 306.56 481.26 309.04 480.49 311.52 479.69 313.98 478.86 316.44 477.99 318.88 477.09 321.31 476.16 323.73 475.2 326.14 474.21 328.53 473.18 330.92 472.12 333.29 471.03 335.64 469.91 337.99 468.76 340.32 467.57 342.64 466.35 344.94 465.1 347.23 463.81 349.51 462.5 351.77 461.15 354.01 459.77 356.24 458.36 358.46 456.92 360.66 455.45 362.85 453.96 365.03 452.45 367.21 450.92 369.37 449.37 371.53 447.82 373.68 446.25 375.83 444.68 377.98 443.11 380.13 441.54 382.27 439.97 384.42 438.41 386.57 436.86 388.72 435.32 390.88 433.8 393.05 432.29 395.22 430.81 397.41 429.35 399.6 427.91 401.8 426.51 404.02 425.14 406.25 423.81 408.5 422.51 410.77 421.26 413.05 420.06 415.35 418.9 417.66 417.81 420 416.77 422.35 415.8 424.73 414.89 427.13 414.05 429.55 413.29 431.99 412.61 434.45 412.01 436.94 411.48 439.44 411.02 441.96 410.62 444.5 410.29 447.06 410.01 449.63 409.78 452.21 409.59 454.81 409.45 457.42 409.35 460.04 409.28 462.66 409.24 465.3 409.22 467.94 409.23 470.59 409.25 473.24 409.28 475.89 409.32 478.55 409.36 481.2 409.4 483.86 409.43 486.51 409.45 489.16 409.45 491.8 409.43 494.44 409.37 497.07 409.29 499.68 409.16 502.29 408.98 504.88 408.75 507.45 408.46 510.01 408.1 512.54 407.67 515.06 407.18 517.55 406.62 520.02 405.99 522.47 405.28 524.89 404.51 527.29 403.66 529.66 402.74 532 401.75 534.31 400.68 536.59 399.54 538.85 398.33 541.07 397.04 543.27 395.7 545.44 394.29 547.58 392.82 549.7 391.3 551.79 389.72 553.86 388.1 555.91 386.43 557.93 384.72 559.94 382.97 561.43 381.63 562.91 380.27 564.37 378.9 565.83 377.51 567.28 376.1 568.72 374.68 570.14 373.25 571.56 371.8 572.98 370.35 574.38 368.89 575.77 367.42 577.16 365.94 578.54 364.47 579.91 362.98 581.28 361.5 582.64 360.02 584 358.53 585.35 357.05 587.14 355.09 588.92 353.13 590.7 351.18 592.47 349.25 594.23 347.35 595.99 345.46 597.74 343.6 599.49 341.76 599.93 341.31" fill="none" stroke="#000" stroke-width="2.3" stroke-linejoin="round"/><polygon points="604.3,336.9 600.32,348.4 598.14,343.19 592.89,341.12" fill="#000"/><polygon points="259.1,489.7 269.63,483.61 267.87,488.98 270.49,493.98" fill="#000"/><path d="M250.71 522.27L250.47 524.33 250.3 526.39 250.18 528.45 250.11 530.51 250.1 532.57 250.13 534.63 250.2 536.69 250.3 538.76 250.44 540.82 250.6 542.88 250.79 544.95 250.99 547.01 251.21 549.08 251.43 551.14 251.66 553.21 251.89 555.27 252.12 557.33 252.33 559.39 252.54 561.45 252.72 563.52 252.88 565.57 252.93 566.32" fill="none" stroke="#000" stroke-width="2.3" stroke-linejoin="round"/><polygon points="253.2,572.4 247.42,561.69 252.73,563.61 257.8,561.14" fill="#000"/><polygon points="251.8,516.3 255.2,527.98 250.42,524.99 244.93,526.34" fill="#000"/><path d="M107.85 611.94L110.12 611.35 112.39 610.76 114.67 610.18 116.94 609.59 119.21 609 121.48 608.42 123.75 607.83 126.02 607.24 128.29 606.66 130.56 606.07 132.83 605.49 135.1 604.9 137.37 604.31 139.64 603.73 141.91 603.14 144.18 602.55 146.45 601.97 148.72 601.38 150.99 600.79 153.26 600.21 155.53 599.62 157.8 599.03 160.07 598.45 162.34 597.86 164.61 597.28 166.88 596.69 169.15 596.1 171.42 595.52 173.69 594.93 175.96 594.34 178.24 593.76 180.51 593.17 182.78 592.58 185.05 592 187.32 591.41 189.59 590.82 191.86 590.24 194.13 589.65 196.4 589.07 198.67 588.48 200.94 587.89 203.21 587.31 205.48 586.72 207.75 586.13 210.02 585.55 212.29 584.96 214.56 584.37 216.83 583.79 219.1 583.2 221.37 582.61 223.64 582.03 225.91 581.44 228.18 580.86 230.45 580.27 232.72 579.68 234.99 579.1 237.26 578.51 239.53 577.92 241.81 577.34 244.08 576.75 246.35 576.16" fill="none" stroke="#000" stroke-width="2.3" stroke-linejoin="round"/><polygon points="252.4,574.6 243.05,582.39 243.88,576.8 240.45,572.32" fill="#000"/><polygon points="101.8,613.5 111.15,605.71 110.32,611.3 113.75,615.78" fill="#000"/><path d="M260.63 572.09L262.79 571.99 264.94 571.91 267.1 571.83 269.27 571.76 271.44 571.69 273.61 571.64 275.78 571.6 277.96 571.56 280.14 571.54 282.32 571.52 284.51 571.52 286.69 571.53 288.88 571.54 291.06 571.57 293.25 571.61 295.44 571.66 297.63 571.73 299.82 571.8 302.01 571.89 304.2 571.99 306.39 572.1 308.58 572.23 310.77 572.37 312.96 572.52 315.14 572.69 317.33 572.87 319.51 573.07 321.69 573.28 323.87 573.5 326.05 573.74 328.22 574 330.39 574.27 332.56 574.56 334.72 574.86 336.89 575.18 339.04 575.52 341.2 575.88 343.34 576.25 345.49 576.64 347.63 577.04 349.76 577.47 351.89 577.91 354.02 578.38 356.14 578.86 358.25 579.36 360.36 579.88 362.46 580.42 364.55 580.97 366.64 581.55 368.72 582.15 370.79 582.77 372.86 583.42 374.92 584.08 376.97 584.76 379.01 585.47 381.04 586.2 383.07 586.95 385.09 587.72 387.09 588.51 389.09 589.33 391.08 590.17 393.06 591.04 395.03 591.93 396.99 592.84 398.94 593.78 400.88 594.74 402.8 595.73 404.72 596.74 406.63 597.78 408.52 598.84 410.4 599.93 412.27 601.04 414.13 602.18 415.98 603.35 417.81 604.55 419.63 605.77 421.44 607.02 423.23 608.3 425.01 609.6 426.78 610.94" fill="none" stroke="#000" stroke-width="2.3" stroke-linejoin="round"/><polygon points="431.5,614.7 419.63,612.02 424.57,609.28 426.04,603.83" fill="#000"/><polygon points="254.5,572.4 265.23,566.67 263.29,571.97 265.74,577.06" fill="#000"/><path d="M495.76 617.62L497.83 617.12 499.91 616.66 501.99 616.24 504.08 615.86 506.17 615.52 508.26 615.22 510.36 614.95 512.47 614.72 514.58 614.51 516.69 614.34 518.8 614.19 520.92 614.07 523.04 613.96 525.17 613.88 527.29 613.82 529.42 613.77 531.55 613.74 533.68 613.72 535.82 613.71 537.95 613.71 540.09 613.71 542.22 613.72 544.36 613.73 546.49 613.74 548.63 613.75 550.76 613.75 552.89 613.75 555.02 613.74 557.16 613.71 559.28 613.68 561.41 613.63 563.54 613.57 565.66 613.49 567.78 613.38 568.34 613.35" fill="none" stroke="#000" stroke-width="2.3" stroke-linejoin="round"/><polygon points="574.4,612.9 563.77,618.82 565.62,613.48 563.08,608.44" fill="#000"/><polygon points="490,619.3 499.23,611.37 498.49,616.97 501.98,621.4" fill="#000"/><path d="M37.9 745.6L37.66 743.51 37.37 741.39 37.01 739.25 36.6 737.07 36.14 734.87 35.69 732.89 35.21 730.9 34.71 728.88 34.18 726.86 33.63 724.81 33.06 722.76 32.48 720.69 31.88 718.61 31.28 716.52 30.68 714.42 30.07 712.32 29.47 710.21 28.88 708.09 28.29 705.97 27.72 703.85 27.16 701.73 26.63 699.61 26.11 697.48 25.63 695.36 25.17 693.25 24.75 691.14 24.36 689.03 24.02 686.93 23.72 684.84 23.47 682.76 23.27 680.69 23.12 678.63 23.03 676.59 23 674.55 23.04 672.54 23.14 670.54 23.34 668.31 23.64 666.11 24.04 663.93 24.54 661.78 25.15 659.66 25.88 657.57 26.73 655.51 27.7 653.49 28.65 651.74 29.7 650.02 30.84 648.34 32.06 646.72 33.37 645.15 34.75 643.63 36.22 642.18 37.76 640.8 39.38 639.49 41.06 638.26 42.82 637.11 44.64 636.05 46.53 635.08 48.49 634.21 50.5 633.44 52.57 632.78 54.69 632.22 56.86 631.77 59.06 631.39 61.27 631.05 63.48 630.73 65.66 630.4 67.8 630.03 69.87 629.59 71.87 629.05 73.78 628.38 74.01 628.29" fill="none" stroke="#000" stroke-width="2.3" stroke-linejoin="round"/><polygon points="79.1,625 71.85,634.77 71.34,629.15 66.95,625.6" fill="#000"/><path d="M95.7 745.6L96.02 743.58 96.31 741.55 96.55 739.53 96.75 737.5 96.91 735.47 97.04 733.45 97.13 731.42 97.19 729.39 97.22 727.37 97.22 725.34 97.19 723.31 97.14 721.29 97.07 719.26 96.97 717.23 96.86 715.2 96.72 713.18 96.57 711.15 96.41 709.12 96.24 707.1 96.05 705.07 95.85 703.04 95.65 701.02 95.44 698.99 95.23 696.97 95.02 694.94 94.81 692.92 94.6 690.89 94.39 688.87 94.19 686.85 93.99 684.82 93.81 682.8 93.63 680.78 93.47 678.76 93.33 676.74 93.2 674.72 93.08 672.7 92.99 670.68 92.92 668.66 92.88 666.65 92.86 664.63 92.86 662.61 92.9 660.6 92.96 658.59 93.06 656.57 93.2 654.56 93.37 652.55 93.57 650.54 93.82 648.53 94.11 646.53 94.44 644.52 94.82 642.52 95.05 641.42" fill="none" stroke="#000" stroke-width="2.3" stroke-linejoin="round"/><polygon points="96.5,635.6 99.08,647.49 94.51,644.17 88.95,645.14" fill="#000"/><path d="M175.6 752.8L175.94 750.7 176.24 748.58 176.5 746.45 176.72 744.3 176.9 742.14 177.04 739.97 177.13 737.79 177.19 735.6 177.2 733.4 177.17 731.2 177.1 729 176.99 726.79 176.84 724.57 176.65 722.36 176.41 720.15 176.14 717.94 175.82 715.74 175.47 713.54 175.07 711.35 174.63 709.17 174.14 706.99 173.62 704.83 173.06 702.68 172.45 700.54 171.81 698.42 171.12 696.31 170.39 694.22 169.62 692.15 168.81 690.1 167.96 688.08 167.06 686.07 166.13 684.09 165.15 682.14 164.13 680.22 163.08 678.32 161.98 676.45 160.83 674.62 159.65 672.81 158.43 671.05 157.16 669.31 155.86 667.62 154.51 665.96 153.12 664.35 151.69 662.77 150.22 661.24 148.71 659.75 147.16 658.31 145.56 656.91 143.93 655.56 142.25 654.26 140.53 653.01 138.77 651.82 136.97 650.68 135.13 649.59 133.25 648.56 131.32 647.59 129.36 646.67 127.35 645.82 125.3 645.03 123.21 644.3 121.08 643.64 119.16 643.11 117.2 642.63 115.2 642.2 114.45 642.05" fill="none" stroke="#000" stroke-width="2.3" stroke-linejoin="round"/><polygon points="108.5,641.2 120.19,637.85 117.18,642.62 118.51,648.11" fill="#000"/><path d="M259.9 748.3L259.36 746.31 258.78 744.33 258.19 742.36 257.56 740.4 256.91 738.45 256.23 736.51 255.53 734.57 254.8 732.65 254.05 730.74 253.26 728.83 252.46 726.94 251.63 725.06 250.77 723.2 249.89 721.34 248.99 719.5 248.06 717.66 247.11 715.85 246.13 714.04 245.13 712.25 244.11 710.47 243.06 708.7 241.99 706.95 240.9 705.21 239.78 703.49 238.65 701.79 237.49 700.09 236.31 698.42 235.11 696.76 233.88 695.11 232.64 693.48 231.38 691.87 230.09 690.28 228.78 688.7 227.46 687.14 226.11 685.6 224.74 684.07 223.36 682.57 221.95 681.08 220.53 679.61 219.08 678.17 217.62 676.74 216.14 675.33 214.64 673.94 213.12 672.57 211.59 671.22 210.04 669.89 208.47 668.59 206.88 667.3 205.28 666.04 203.65 664.8 202.02 663.58 200.36 662.38 198.69 661.21 197.01 660.06 195.31 658.93 193.59 657.83 191.86 656.75 190.11 655.7 188.35 654.66 186.57 653.66 184.79 652.68 182.98 651.72 181.17 650.79 179.34 649.89 177.5 649.01 175.65 648.15 173.79 647.33 171.91 646.52 170.02 645.75 168.13 645 166.22 644.28 164.3 643.59 162.37 642.93 160.43 642.29 158.48 641.68 156.53 641.1 154.56 640.55 152.59 640.03 150.61 639.54 148.62 639.07 146.62 638.64 144.61 638.23 142.6 637.86 140.58 637.51 138.56 637.2 136.53 636.92 134.49 636.67 132.45 636.45 130.41 636.26 128.35 636.1 126.3 635.98 124.24 635.88 122.18 635.82 120.11 635.8 118.04 635.8 115.97 635.84 114.24 635.9" fill="none" stroke="#000" stroke-width="2.3" stroke-linejoin="round"/><polygon points="108,636.3 118.7,630.52 116.79,635.83 119.26,640.9" fill="#000"/><path d="M321.9 748.3L320.81 746.41 319.71 744.53 318.59 742.66 317.45 740.8 316.3 738.94 315.14 737.09 313.96 735.26 312.76 733.43 311.55 731.61 310.33 729.79 309.09 727.99 307.83 726.2 306.56 724.41 305.28 722.64 303.98 720.88 302.67 719.12 301.34 717.38 300 715.65 298.64 713.93 297.27 712.22 295.89 710.52 294.49 708.83 293.08 707.15 291.66 705.48 290.22 703.83 288.77 702.19 287.3 700.56 285.82 698.94 284.33 697.33 282.83 695.74 281.31 694.16 279.78 692.59 278.24 691.04 276.68 689.5 275.11 687.97 273.53 686.45 271.94 684.95 270.33 683.47 268.72 681.99 267.09 680.54 265.44 679.09 263.79 677.66 262.12 676.25 260.45 674.85 258.76 673.46 257.05 672.09 255.34 670.74 253.62 669.4 251.88 668.08 250.14 666.78 248.38 665.49 246.61 664.21 244.83 662.95 243.04 661.71 241.24 660.49 239.42 659.28 237.6 658.09 235.77 656.92 233.92 655.77 232.07 654.63 230.21 653.51 228.33 652.41 226.45 651.33 224.55 650.26 222.65 649.22 220.73 648.19 218.81 647.18 216.88 646.19 214.93 645.22 212.98 644.27 211.02 643.34 209.05 642.43 207.07 641.54 205.08 640.67 203.08 639.82 201.08 638.99 199.06 638.18 197.04 637.39 195.01 636.62 192.97 635.87 190.93 635.14 188.87 634.44 186.81 633.75 184.74 633.09 182.67 632.45 180.59 631.83 178.5 631.23 176.4 630.65 174.3 630.1 172.19 629.56 170.08 629.05 167.96 628.57 165.84 628.1 163.71 627.66 161.57 627.24 159.43 626.84 157.28 626.47 155.13 626.12 152.98 625.79 150.82 625.48 148.65 625.2 146.49 624.95 144.31 624.71 142.14 624.51 139.96 624.32 137.78 624.16 135.59 624.03 133.4 623.91 131.21 623.83 129.02 623.77 126.82 623.73 124.62 623.72 122.42 623.73 120.21 623.77 118.01 623.83 115.8 623.92 113.59 624.04" fill="none" stroke="#000" stroke-width="2.3" stroke-linejoin="round"/><polygon points="107.4,624.5 118.02,618.57 116.18,623.91 118.72,628.95" fill="#000"/><path d="M408.5 749.5L407.08 747.81 405.67 746.1 404.25 744.38 402.83 742.65 401.42 740.91 399.99 739.16 398.57 737.41 397.14 735.65 395.7 733.9 394.26 732.14 392.8 730.38 391.34 728.63 389.87 726.89 388.39 725.15 386.89 723.42 385.38 721.7 383.86 720 382.32 718.31 380.77 716.63 379.2 714.98 377.62 713.34 376.02 711.72 374.4 710.11 372.77 708.53 371.12 706.98 369.46 705.44 367.78 703.93 366.08 702.44 364.36 700.98 362.63 699.54 360.88 698.13 359.11 696.75 357.32 695.39 355.52 694.06 353.71 692.75 351.87 691.46 350.03 690.2 348.16 688.96 346.29 687.74 344.4 686.54 342.49 685.37 340.58 684.21 338.65 683.07 336.71 681.95 334.75 680.85 332.79 679.77 330.81 678.7 328.82 677.65 326.83 676.61 324.82 675.59 322.8 674.59 320.77 673.6 318.74 672.62 316.69 671.65 314.64 670.69 312.58 669.75 310.51 668.82 308.44 667.89 306.36 666.98 304.27 666.07 302.18 665.18 300.08 664.29 297.98 663.4 295.87 662.53 293.76 661.66 291.64 660.79 289.53 659.93 287.4 659.07 285.28 658.22 283.15 657.37 281.02 656.52 278.89 655.67 276.76 654.82 274.63 653.97 272.49 653.13 270.36 652.28 268.23 651.43 266.09 650.58 263.96 649.73 261.82 648.89 259.69 648.04 257.55 647.2 255.42 646.36 253.28 645.52 251.14 644.69 249.01 643.86 246.87 643.04 244.73 642.22 242.58 641.41 240.44 640.6 238.3 639.8 236.15 639.01 234.01 638.22 231.86 637.45 229.71 636.68 227.56 635.92 225.41 635.17 223.26 634.43 221.11 633.7 218.95 632.98 216.79 632.27 214.63 631.58 212.47 630.89 210.31 630.22 208.14 629.57 205.98 628.93 203.81 628.3 201.64 627.68 199.46 627.09 197.29 626.5 195.11 625.94 192.93 625.39 190.75 624.86 188.56 624.34 186.37 623.85 184.18 623.37 181.99 622.91 179.79 622.47 177.6 622.05 175.39 621.66 173.19 621.28 170.98 620.92 168.77 620.59 166.56 620.28 164.34 619.99 162.12 619.73 159.9 619.49 157.67 619.27 155.44 619.08 153.21 618.92 150.97 618.78 148.73 618.67 146.49 618.58 144.24 618.52 141.99 618.49 139.73 618.49 137.47 618.52 135.21 618.57 132.94 618.66 130.67 618.78 128.4 618.92 126.12 619.1 123.83 619.31 121.54 619.56 119.25 619.83 116.95 620.14 114.65 620.48" fill="none" stroke="#000" stroke-width="2.3" stroke-linejoin="round"/><polygon points="108.3,621.6 118.29,614.66 116.98,620.15 120.01,624.92" fill="#000"/><text x="72.1" y="163.3" text-anchor="middle"><tspan style="letter-spacing:2.6px">用户</tspan></text><text x="227.1" y="253.8" text-anchor="middle"><tspan style="letter-spacing:0.45px">数据API接口</tspan></text><text x="385.8" y="163.2" text-anchor="middle">数据存储</text><text x="663.9" y="190.6" text-anchor="middle">节能诊断</text><text x="663.9" y="209" text-anchor="middle">故障报警</text><text x="472.9" y="365.3" text-anchor="middle">高级报表</text><text x="663.7" y="380.6" text-anchor="middle">计划预测</text><text x="663.7" y="399.8" text-anchor="middle">智能控制</text><text x="256.8" y="439.6" text-anchor="middle">数据清洗</text><text x="256.45" y="457.4" text-anchor="middle"><tspan style="letter-spacing:0">规范化、汇总</tspan></text><text x="70.35" y="406.7" text-anchor="middle">数据可视化</text><text x="79.8" y="510.3" text-anchor="middle">用能单位</text><text x="97.8" y="687.4" text-anchor="middle">数据采集器</text><text x="463.1" y="690.2" text-anchor="middle">远程控制器</text><text x="627.6" y="690.2" text-anchor="middle">用能设备</text><text x="30.8" y="813.3" text-anchor="middle">电表</text><text x="99.8" y="813.3" text-anchor="middle">水表</text><text x="181.1" y="810.5" text-anchor="middle">气表</text><text x="254" y="810.2" text-anchor="middle">冷热量表</text><text x="328.2" y="810.2" text-anchor="middle">传感器</text><text x="402.8" y="810.2" text-anchor="middle">人工抄录</text></svg></body></html>
